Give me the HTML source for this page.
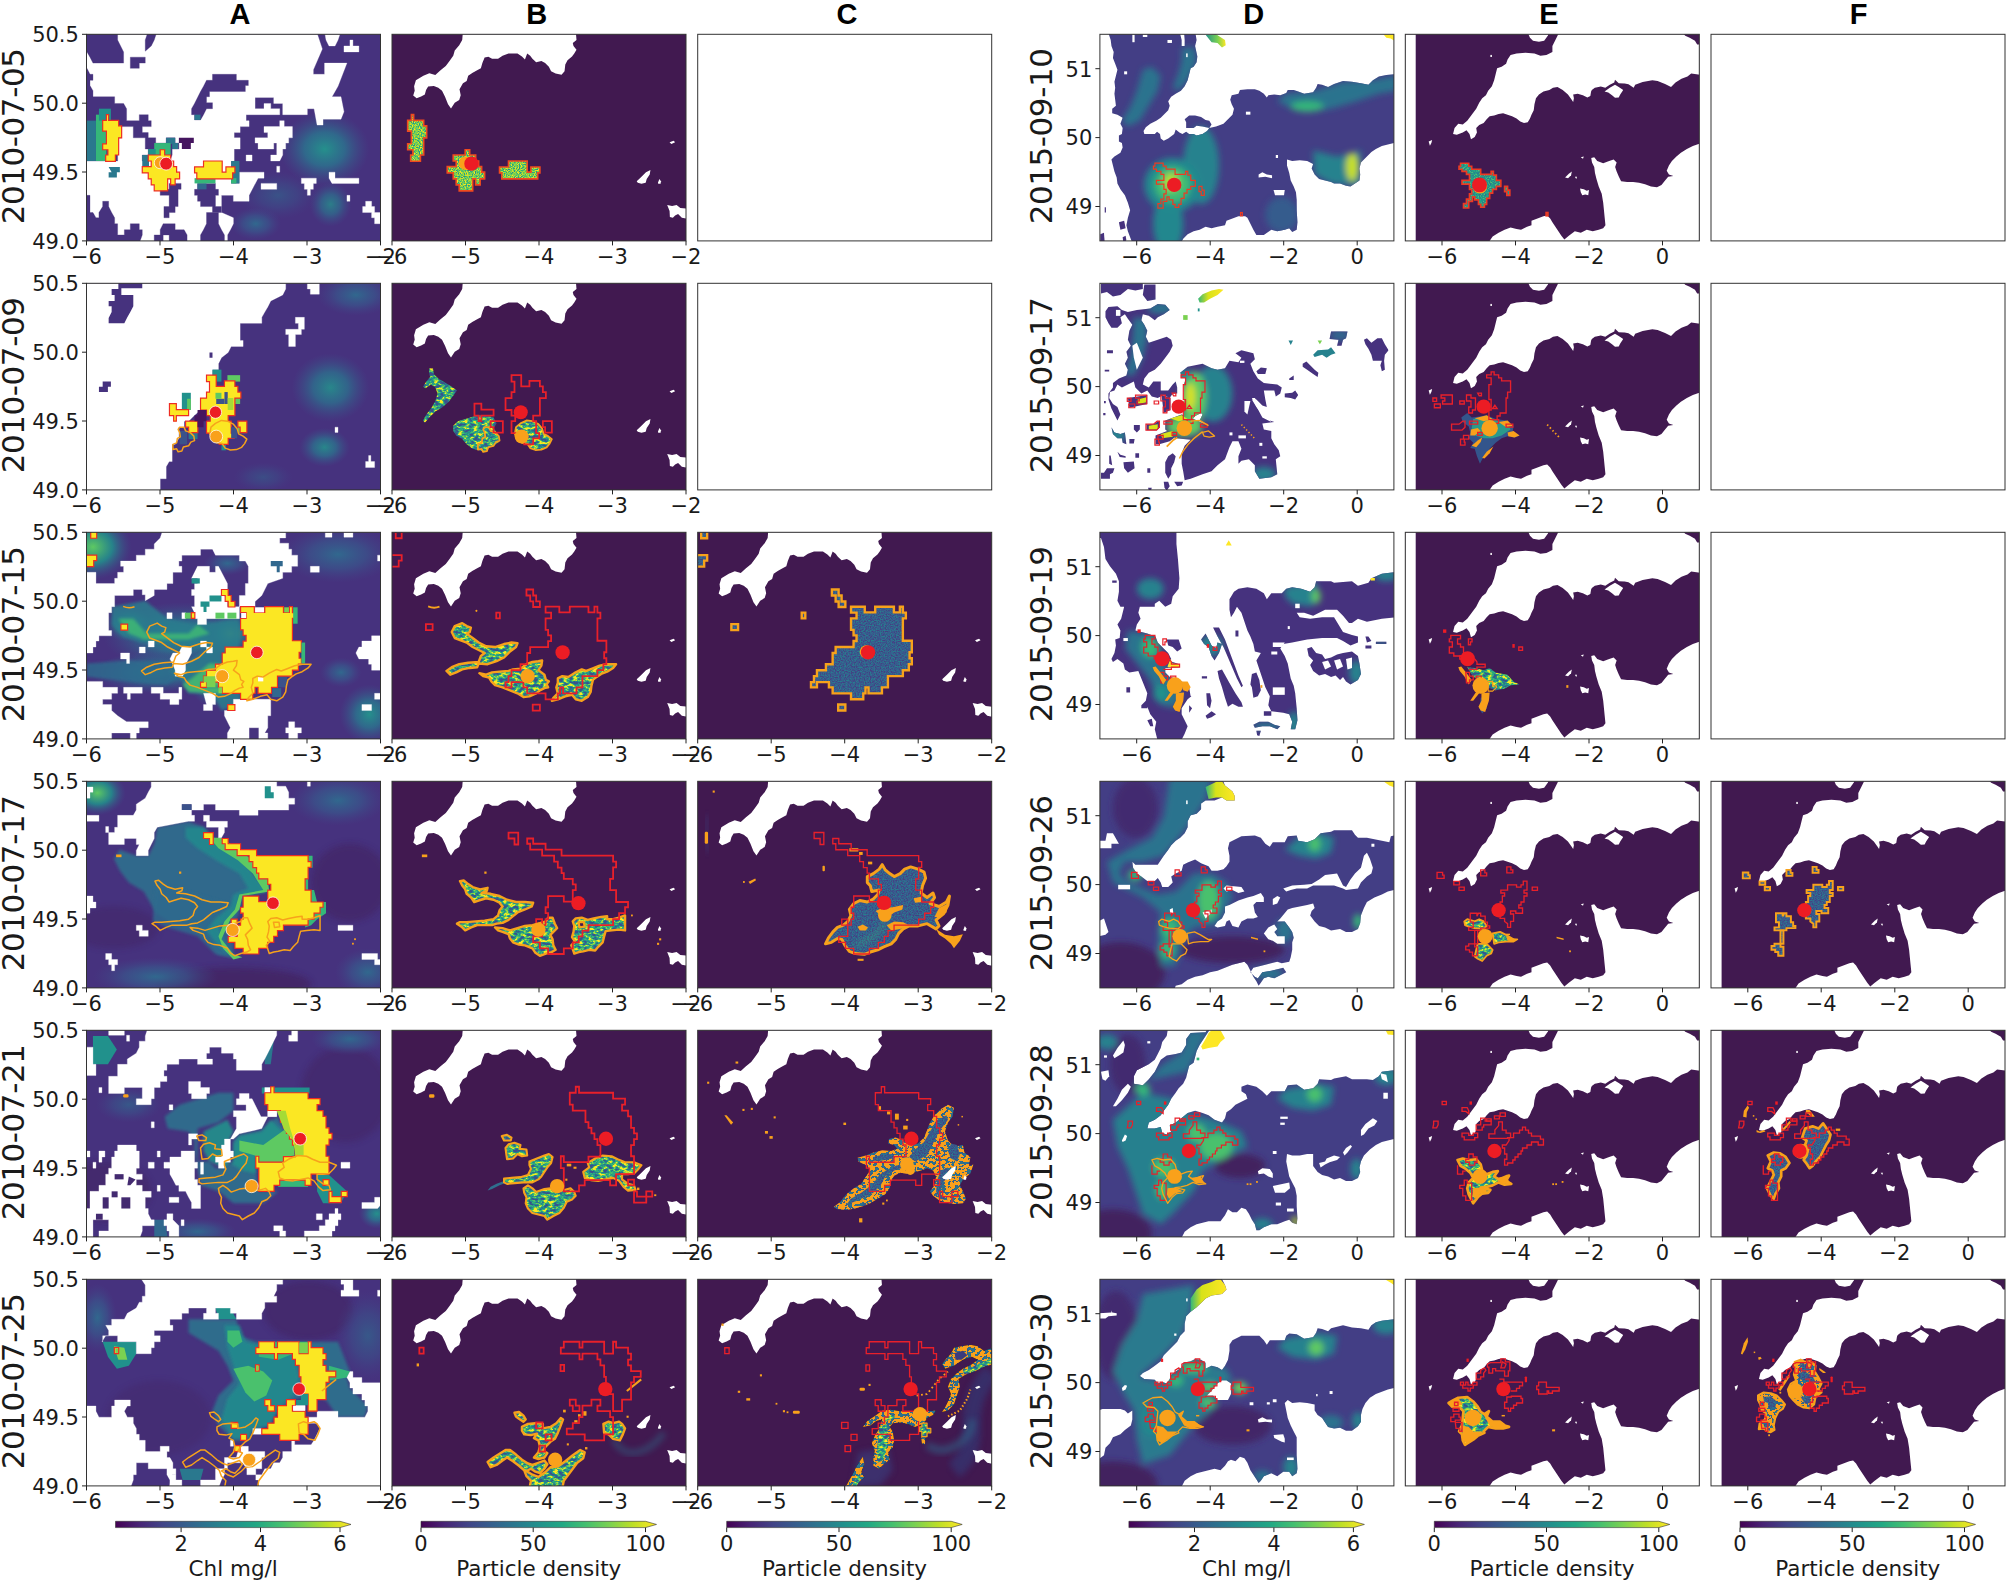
<!DOCTYPE html>
<html lang="en"><head><meta charset="utf-8"><title>Figure</title>
<style>
html,body{margin:0;padding:0;background:#fff}
svg{display:block}
text{font-family:"DejaVu Sans","Liberation Sans",sans-serif;fill:#1a1a1a}
.t{font-size:21px}
.d{font-size:31px;letter-spacing:-0.45px}
.h{font-family:"Liberation Sans","DejaVu Sans",sans-serif;font-weight:700;font-size:29px;fill:#000}
.fr{fill:none;stroke:#333;stroke-width:1}
.tk{stroke:#222;stroke-width:1}
.ro{fill:none;stroke:#e8202a;stroke-width:12;stroke-linejoin:miter}
.oo{fill:none;stroke:#f7a21b;stroke-width:12;stroke-linejoin:round}
</style></head><body>
<svg width="2008" height="1581" viewBox="0 0 2008 1581">
<defs>
<linearGradient id="vir" x1="0" x2="1" y1="0" y2="0"><stop offset="0.0" stop-color="#440154"/><stop offset="0.1" stop-color="#482475"/><stop offset="0.2" stop-color="#414487"/><stop offset="0.3" stop-color="#355f8d"/><stop offset="0.4" stop-color="#2a788e"/><stop offset="0.5" stop-color="#21918c"/><stop offset="0.6" stop-color="#22a884"/><stop offset="0.7" stop-color="#44bf70"/><stop offset="0.8" stop-color="#7ad151"/><stop offset="0.9" stop-color="#bddf26"/><stop offset="1.0" stop-color="#fde725"/></linearGradient>
<filter id="sp" x="-5%" y="-5%" width="110%" height="110%" color-interpolation-filters="sRGB"><feTurbulence type="fractalNoise" baseFrequency="0.13" numOctaves="2" seed="3" result="n"/><feColorMatrix in="n" type="matrix" values="2.2 0 0 0 -0.6  2.2 0 0 0 -0.6  2.2 0 0 0 -0.6  0 0 0 0 1"/><feComponentTransfer><feFuncR type="table" tableValues="0.13 0.21 0.48 0.74 0.99"/><feFuncG type="table" tableValues="0.57 0.72 0.82 0.87 0.91"/><feFuncB type="table" tableValues="0.55 0.47 0.32 0.17 0.14"/></feComponentTransfer><feComposite operator="in" in2="SourceGraphic"/></filter>
<filter id="hm" x="-5%" y="-5%" width="110%" height="110%" color-interpolation-filters="sRGB"><feTurbulence type="fractalNoise" baseFrequency="0.03 0.05" numOctaves="3" seed="7" result="n"/><feColorMatrix in="n" type="matrix" values="2.6 0 0 0 -0.8  2.6 0 0 0 -0.8  2.6 0 0 0 -0.8  0 0 0 0 1"/><feComponentTransfer><feFuncR type="table" tableValues="0.23 0.17 0.13 0.21 0.56 0.99"/><feFuncG type="table" tableValues="0.32 0.45 0.57 0.72 0.84 0.91"/><feFuncB type="table" tableValues="0.55 0.56 0.55 0.47 0.27 0.14"/></feComponentTransfer><feComposite operator="in" in2="SourceGraphic"/></filter>
<filter id="bl" x="-5%" y="-5%" width="110%" height="110%" color-interpolation-filters="sRGB"><feTurbulence type="fractalNoise" baseFrequency="0.12" numOctaves="2" seed="5" result="n"/><feColorMatrix in="n" type="matrix" values="2.4 0 0 0 -0.7  2.4 0 0 0 -0.7  2.4 0 0 0 -0.7  0 0 0 0 1"/><feComponentTransfer><feFuncR type="table" tableValues="0.27 0.23 0.20 0.15"/><feFuncG type="table" tableValues="0.25 0.33 0.40 0.50"/><feFuncB type="table" tableValues="0.51 0.55 0.56 0.56"/></feComponentTransfer><feComposite operator="in" in2="SourceGraphic"/></filter>
<filter id="tl" x="-5%" y="-5%" width="110%" height="110%" color-interpolation-filters="sRGB"><feTurbulence type="fractalNoise" baseFrequency="0.12" numOctaves="2" seed="9" result="n"/><feColorMatrix in="n" type="matrix" values="2.4 0 0 0 -0.7  2.4 0 0 0 -0.7  2.4 0 0 0 -0.7  0 0 0 0 1"/><feComponentTransfer><feFuncR type="table" tableValues="0.19 0.13 0.15 0.35"/><feFuncG type="table" tableValues="0.45 0.57 0.66 0.75"/><feFuncB type="table" tableValues="0.56 0.55 0.52 0.45"/></feComponentTransfer><feComposite operator="in" in2="SourceGraphic"/></filter>
<filter id="bf" x="-20%" y="-20%" width="140%" height="140%"><feGaussianBlur stdDeviation="22"/></filter>
<filter id="bf2" x="-20%" y="-20%" width="140%" height="140%"><feGaussianBlur stdDeviation="10"/></filter>
<filter id="ob" x="-5%" y="-5%" width="110%" height="110%" color-interpolation-filters="sRGB"><feTurbulence type="fractalNoise" baseFrequency="0.035 0.05" numOctaves="3" seed="11" result="n"/><feColorMatrix in="n" type="matrix" values="3 0 0 0 -1  3 0 0 0 -1  3 0 0 0 -1  0 0 0 0 1"/><feComponentTransfer><feFuncR type="discrete" tableValues="0.17 0.19 0.98 0.98 0.98"/><feFuncG type="discrete" tableValues="0.45 0.38 0.63 0.63 0.63"/><feFuncB type="discrete" tableValues="0.56 0.55 0.11 0.11 0.11"/></feComponentTransfer><feComposite operator="in" in2="SourceGraphic"/></filter>

<radialGradient id="gT"><stop offset="0" stop-color="#25908c"/><stop offset=".45" stop-color="#2c728e" stop-opacity=".85"/><stop offset="1" stop-color="#3b528b" stop-opacity="0"/></radialGradient>
<radialGradient id="gB"><stop offset="0" stop-color="#31688e"/><stop offset=".5" stop-color="#39568c" stop-opacity=".7"/><stop offset="1" stop-color="#414487" stop-opacity="0"/></radialGradient>
<radialGradient id="gG"><stop offset="0" stop-color="#5ec962"/><stop offset=".5" stop-color="#21918c" stop-opacity=".85"/><stop offset="1" stop-color="#3b528b" stop-opacity="0"/></radialGradient>
<radialGradient id="gY"><stop offset="0" stop-color="#fde725"/><stop offset=".35" stop-color="#7ad151" stop-opacity=".95"/><stop offset=".7" stop-color="#21918c" stop-opacity=".7"/><stop offset="1" stop-color="#3b528b" stop-opacity="0"/></radialGradient>

<g id="landB" fill="#fff">
<path d="M495 0L490 60L470 95L440 130L430 165L405 200L380 235L345 262L310 295L270 282L230 300L180 330L168 370L172 400L162 432L185 450L215 438L240 425L248 395L262 372L300 368L330 380L355 400L375 440L395 490L415 518L440 480L470 462L480 430L472 390L495 350L520 335L530 300L560 280L590 262L615 250L625 215L640 178L665 172L690 185L730 185L760 165L800 150L860 150L890 170L910 190L925 150L945 165L960 185L985 210L1020 200L1045 215L1070 240L1085 270L1115 285L1155 292L1175 270L1180 225L1195 195L1225 170L1240 150L1255 125L1235 100L1230 80L1255 60L1250 0Z"/>
<path d="M1658 1005L1690 975L1720 945L1750 930L1745 960L1725 990L1718 1015L1690 1022L1665 1015Z"/>
<path d="M1800 1015L1810 990L1820 1005L1818 1022L1802 1022Z"/>
<path d="M1878 745L1905 735L1915 745L1890 757Z"/>
<path d="M1862 1165L1895 1172L1925 1165L1950 1185L2000 1190L2000 1258L1960 1250L1935 1225L1915 1235L1900 1250L1880 1245L1878 1205Z"/>
</g>

<g id="landE" fill="#fff">
<rect x="0" y="0" width="85" height="1581"/>
<path d="M830 0L850 45L870 65L910 72L945 65L970 30L975 0Z"/>
<path d="M1050 0L1020 60L1000 100L1000 140L960 160L920 165L880 150L820 145L760 150L720 160L700 190L690 220L660 240L630 250L620 290L610 330L595 370L570 400L555 430L530 450L510 480L490 520L460 560L430 600L400 625L370 620L345 650L335 690L360 695L400 680L425 665L445 690L455 725L480 710L495 680L490 650L510 630L540 615L560 590L580 570L610 565L640 555L670 550L700 560L730 570L760 585L785 605L810 615L835 610L850 585L860 560L875 530L880 490L890 450L910 425L940 405L980 395L1004 380L1034 375L1069 395L1104 425L1129 460L1139 475L1144 450L1139 425L1169 420L1204 430L1234 445L1254 435L1259 405L1264 395L1284 380L1324 372L1354 380L1384 360L1414 345L1419 327L1444 350L1484 352L1509 357L1544 380L1554 360L1604 342L1669 330L1704 335L1754 355L1794 375L1824 345L1864 320L1904 305L1929 285L2010 295L2010 92L1969 90L1954 65L1919 45L1889 32L1860 0Z"/>
<path d="M1349 405L1384 380L1419 360L1444 375L1474 395L1454 425L1444 445L1419 447L1399 430L1374 412Z"/>
<path d="M172 740L195 730L190 750L180 768Z"/><rect x="585" y="160" width="10" height="14"/>
<path d="M570 1420L600 1375L640 1350L680 1330L720 1315L760 1325L790 1330L830 1310L860 1300L860 1270L900 1255L940 1240L965 1235L985 1255L1000 1280L1020 1310L1040 1340L1060 1370L1080 1395L1110 1370L1150 1340L1190 1350L1230 1330L1270 1340L1310 1330L1340 1320L1355 1300L1350 1250L1345 1200L1340 1150L1330 1090L1310 1040L1295 990L1285 950L1280 910L1265 880L1260 850L1280 845L1300 870L1340 885L1380 870L1410 860L1430 880L1420 910L1430 940L1445 975L1460 1005L1500 1010L1540 1010L1580 1015L1620 1025L1660 1040L1700 1045L1730 1030L1750 1005L1775 975L1810 970L1780 960L1765 935L1780 900L1800 870L1830 840L1860 815L1900 790L1940 770L2010 745L2010 1420Z"/>
<path d="M1085 980L1110 955L1130 940L1125 965L1105 985Z"/><path d="M1150 975L1165 975L1160 990Z"/><path d="M1190 845L1210 840L1205 855Z"/>
<path d="M1185 1055L1210 1060L1230 1070L1245 1065L1240 1100L1220 1095L1200 1100L1190 1080Z"/>
</g>

<clipPath id="cpA0"><rect x="86.5" y="34.3" width="294.0" height="206.6"/></clipPath><clipPath id="cpA1"><rect x="86.5" y="283.3" width="294.0" height="206.6"/></clipPath><clipPath id="cpA2"><rect x="86.5" y="532.3" width="294.0" height="206.6"/></clipPath><clipPath id="cpA3"><rect x="86.5" y="781.3" width="294.0" height="206.6"/></clipPath><clipPath id="cpA4"><rect x="86.5" y="1030.3" width="294.0" height="206.6"/></clipPath><clipPath id="cpA5"><rect x="86.5" y="1279.3" width="294.0" height="206.6"/></clipPath><clipPath id="cpB0"><rect x="392.0" y="34.3" width="294.0" height="206.6"/></clipPath><clipPath id="cpB1"><rect x="392.0" y="283.3" width="294.0" height="206.6"/></clipPath><clipPath id="cpB2"><rect x="392.0" y="532.3" width="294.0" height="206.6"/></clipPath><clipPath id="cpB3"><rect x="392.0" y="781.3" width="294.0" height="206.6"/></clipPath><clipPath id="cpB4"><rect x="392.0" y="1030.3" width="294.0" height="206.6"/></clipPath><clipPath id="cpB5"><rect x="392.0" y="1279.3" width="294.0" height="206.6"/></clipPath><clipPath id="cpC0"><rect x="697.7" y="34.3" width="294.0" height="206.6"/></clipPath><clipPath id="cpC1"><rect x="697.7" y="283.3" width="294.0" height="206.6"/></clipPath><clipPath id="cpC2"><rect x="697.7" y="532.3" width="294.0" height="206.6"/></clipPath><clipPath id="cpC3"><rect x="697.7" y="781.3" width="294.0" height="206.6"/></clipPath><clipPath id="cpC4"><rect x="697.7" y="1030.3" width="294.0" height="206.6"/></clipPath><clipPath id="cpC5"><rect x="697.7" y="1279.3" width="294.0" height="206.6"/></clipPath><clipPath id="cpD0"><rect x="1099.9" y="34.3" width="294.0" height="206.6"/></clipPath><clipPath id="cpD1"><rect x="1099.9" y="283.3" width="294.0" height="206.6"/></clipPath><clipPath id="cpD2"><rect x="1099.9" y="532.3" width="294.0" height="206.6"/></clipPath><clipPath id="cpD3"><rect x="1099.9" y="781.3" width="294.0" height="206.6"/></clipPath><clipPath id="cpD4"><rect x="1099.9" y="1030.3" width="294.0" height="206.6"/></clipPath><clipPath id="cpD5"><rect x="1099.9" y="1279.3" width="294.0" height="206.6"/></clipPath><clipPath id="cpE0"><rect x="1405.3" y="34.3" width="294.0" height="206.6"/></clipPath><clipPath id="cpE1"><rect x="1405.3" y="283.3" width="294.0" height="206.6"/></clipPath><clipPath id="cpE2"><rect x="1405.3" y="532.3" width="294.0" height="206.6"/></clipPath><clipPath id="cpE3"><rect x="1405.3" y="781.3" width="294.0" height="206.6"/></clipPath><clipPath id="cpE4"><rect x="1405.3" y="1030.3" width="294.0" height="206.6"/></clipPath><clipPath id="cpE5"><rect x="1405.3" y="1279.3" width="294.0" height="206.6"/></clipPath><clipPath id="cpF0"><rect x="1711.0" y="34.3" width="294.0" height="206.6"/></clipPath><clipPath id="cpF1"><rect x="1711.0" y="283.3" width="294.0" height="206.6"/></clipPath><clipPath id="cpF2"><rect x="1711.0" y="532.3" width="294.0" height="206.6"/></clipPath><clipPath id="cpF3"><rect x="1711.0" y="781.3" width="294.0" height="206.6"/></clipPath><clipPath id="cpF4"><rect x="1711.0" y="1030.3" width="294.0" height="206.6"/></clipPath><clipPath id="cpF5"><rect x="1711.0" y="1279.3" width="294.0" height="206.6"/></clipPath>
</defs>
<rect width="2008" height="1581" fill="#fff"/>
<g clip-path="url(#cpA0)"><g transform="translate(84,31) scale(0.149402)"><rect width="2008" height="1581" fill="#46327e"/>
<ellipse cx="1610" cy="790" rx="300" ry="250" fill="url(#gT)"/><ellipse cx="1650" cy="1160" rx="140" ry="150" fill="url(#gT)" opacity=".8"/><ellipse cx="1150" cy="1290" rx="170" ry="110" fill="url(#gB)"/><ellipse cx="1300" cy="1100" rx="260" ry="160" fill="url(#gB)" opacity=".6"/>
<g fill="#fff" stroke="#fff" stroke-width="2">
<path d="M0 0H1555L1595 120L1535 260V290H1610V215H1760L1700 370L1660 440H1720L1740 540L1720 590H1600V630H1560L1540 520H1495V560H1330V485H1270V445H1145V520H1205V485H1250V520H1310V560H1085V600H1105V640H1045V680H1005V715H1045V790H1005V870H985V1020H1040V945H1205V985H1165L1105 1100V1140H1000V1100H920V1215L1000 1250V1290L980 1330L960 1365V1420H0Z"/>
<path d="M1610 0H1720L1700 60L1680 100H1640L1620 60Z"/><path d="M1740 100H1780V60H1800V100H1840V140H1740Z"/>
<path d="M1145 715H1230V680H1205V640H1310V600H1340V640H1395V715H1370V750H1350V790H1330V830L1310 870H1250V830H1290V750H1270V790H1165V750H1145Z"/>
<path d="M1085 830H1125V870H1085Z"/><path d="M1290 905H1310V945H1290Z"/><path d="M1185 1020H1290V1060H1185Z"/>
<path d="M1455 985H1555V1020H1535V1060H1515V1100H1495V1060H1475V1020H1455Z"/><path d="M1640 945H1680V985H1840V1020H1660L1640 985Z"/><path d="M1760 1100H1780V1140H1760Z"/>
<path d="M1885 1140H1925V1175H1945V1215H2000V1290H1945V1250H1925V1215H1865V1175H1885Z"/></g>
<g fill="#46327e" stroke="#46327e" stroke-width="2">
<path d="M0 0H225V60L245 100L265 140V215H60L40 175L20 140H0Z"/><path d="M430 0H490L470 60L450 100L410 135V60Z"/><path d="M310 175H410V215H370V250H310Z"/>
<path d="M0 250H20L40 290H60V330H40V365L60 400V440H205V485H265L285 520V600H370V560H430V600H450V640H390V680H430V715H480V750H550V715H610V750H635V790H590V830L575 870H390V830H430V790H410V715H330V640H250V715H225V870H0Z"/>
<path d="M860 290H1020V330H1100V365H1080V405H840V440H820V480H860V520H820L800 560L780 595H740V560H720V520L740 485L760 445L780 405L800 370L820 330H860Z"/>
<path d="M510 1060H570V1020H650V1060H630V1175H610V1215H570V1250H535V1175H570V1100H510Z"/>
<path d="M760 1020H880V1060H900V1100H880V1175H920V1215H860V1175H780V1140H760V1100H740V1060H760Z"/>
<path d="M0 1100H40V1215H60L80 1250H100V1215L125 1175V1140H165V1175L185 1215L205 1250V1290H225V1365H270V1330H310V1290H370V1330H390V1365L370 1420H0Z"/>
<path d="M470 1420V1365H510V1330L530 1290H610V1330H670L690 1365V1420H570V1365H530V1420Z"/>
<path d="M780 1420V1365L800 1330L820 1290V1215H900V1290L920 1330L940 1365V1420Z"/></g>
<path d="M635 715H735V750H715V790H655V750H635Z" fill="#45155f"/>
<g fill="#2a788e"><path d="M165 910H240V945H220V980H165V945H185Z"/><rect x="740" y="560" width="40" height="35"/><rect x="985" y="870" width="55" height="150"/><rect x="390" y="830" width="45" height="80"/><rect x="20" y="600" width="60" height="270"/><rect x="550" y="715" width="60" height="40"/><rect x="590" y="750" width="40" height="40"/><rect x="760" y="1020" width="60" height="40" fill="#31688e"/></g>
<g fill="#35b779"><rect x="80" y="560" width="70" height="310"/><rect x="100" y="520" width="80" height="80" fill="#21918c"/><rect x="470" y="750" width="110" height="80"/><rect x="740" y="985" width="140" height="35"/><rect x="430" y="790" width="50" height="45" fill="#21918c"/><rect x="985" y="985" width="35" height="35"/></g>
<use href="#b0p" fill="#fbe723" stroke="#ee2d22" stroke-width="8"/>
<g stroke="#fff" stroke-width="5"><circle cx="510" cy="882" r="40" fill="#f9a11b"/><circle cx="550" cy="888" r="43" fill="#ec1c24"/></g>
</g></g>
<rect class="fr" x="86.5" y="34.3" width="294.0" height="206.6"/>
<g clip-path="url(#cpA1)"><g transform="translate(84,280) scale(0.149402)"><rect width="2008" height="1581" fill="#46327e"/>
<ellipse cx="1650" cy="720" rx="260" ry="230" fill="url(#gT)" opacity=".9"/><ellipse cx="1610" cy="1120" rx="170" ry="130" fill="url(#gT)" opacity=".9"/><ellipse cx="1820" cy="100" rx="260" ry="140" fill="url(#gB)"/><ellipse cx="1200" cy="1320" rx="200" ry="100" fill="url(#gB)" opacity=".5"/>
<g fill="#fff" stroke="#fff" stroke-width="2">
<path d="M0 0H1350V60L1330 100L1250 140L1230 180L1210 215L1190 250V290H1045V405H1065V445H985L965 485L920 520L900 560V600H860V680H840V750H820V790H780V870L740 905L700 945H670V985H635V1060L610 1100H590V1215H570L550 1250V1330H510V1420H0Z"/>
<path d="M1495 0H1575V95H1515V60H1495Z"/><path d="M1415 250H1475V330H1455V365H1415V445H1370V365H1350V330H1435V290H1415Z"/><path d="M1680 985H1700V1020H1680Z"/><path d="M1905 1175H1920V1215H1945V1255H1885V1215H1905Z"/></g>
<g fill="#46327e"><path d="M230 0H390V55H250V100H330V175L310 215L290 250L270 290H165V255L185 215V175H165V140H205V100H185V60H230Z"/><path d="M125 680H180V715H160V750H100V715H125Z"/><path d="M840 485H860V520H840Z"/></g>
<g fill="#21918c"><rect x="860" y="600" width="60" height="80"/><rect x="655" y="755" width="60" height="115"/><rect x="920" y="1100" width="30" height="40"/><rect x="700" y="985" width="60" height="80" fill="#2a788e"/></g>
<g fill="#5ec962"><rect x="960" y="637" width="85" height="43"/><rect x="1000" y="790" width="45" height="40"/><rect x="690" y="795" width="25" height="75"/><rect x="1030" y="945" width="60" height="80"/></g>
<use href="#b1r" fill="#fbe723" stroke="#ee2d22" stroke-width="8"/>
<g fill="#3b528b"><rect x="885" y="795" width="55" height="35"/><rect x="940" y="750" width="22" height="80"/><rect x="985" y="985" width="40" height="75"/><rect x="640" y="1010" width="50" height="90"/></g><rect x="880" y="755" width="40" height="40" fill="#5ec962"/><rect x="962" y="790" width="38" height="80" fill="#a5db36"/>
<path d="M760 870H820V945H800V985H760V945H740V905H760Z" fill="#45155f"/>
<use href="#b1o" style="stroke-width:10" class="oo" />
<g stroke="#fff" stroke-width="5"><circle cx="880" cy="885" r="41" fill="#ec1c24"/><circle cx="885" cy="1048" r="43" fill="#f9a11b"/></g>
</g></g>
<rect class="fr" x="86.5" y="283.3" width="294.0" height="206.6"/>
<g clip-path="url(#cpA2)"><g transform="translate(84,529) scale(0.149402)"><rect width="2008" height="1581" fill="#46327e"/>
<ellipse cx="60" cy="120" rx="260" ry="220" fill="url(#gG)"/><ellipse cx="650" cy="720" rx="520" ry="230" fill="url(#gT)"/><ellipse cx="480" cy="960" rx="430" ry="140" fill="url(#gT)"/><ellipse cx="900" cy="1020" rx="200" ry="180" fill="url(#gG)"/><ellipse cx="980" cy="700" rx="160" ry="140" fill="url(#gG)" opacity=".7"/><ellipse cx="300" cy="640" rx="160" ry="120" fill="url(#gG)" opacity=".8"/>
<ellipse cx="1910" cy="1240" rx="200" ry="200" fill="url(#gT)"/><ellipse cx="1720" cy="960" rx="140" ry="100" fill="url(#gB)"/><ellipse cx="1700" cy="170" rx="380" ry="190" fill="url(#gB)"/><ellipse cx="960" cy="230" rx="160" ry="80" fill="url(#gB)"/>
<polygon filter="url(#bf2)" fill="#2a7d8e" opacity=".85" points="185,520 410,480 560,600 740,640 1040,600 1040,790 925,830 925,905 800,1025 1048,1100 1048,1175 920,1215 860,1100 700,1100 640,990 700,880 830,800 560,760 380,760 260,720 185,640"/><polygon filter="url(#bf2)" fill="#2f6b8e" opacity=".85" points="20,900 300,880 560,900 600,1000 560,1040 300,1020 20,990"/><polygon filter="url(#bf2)" fill="#3fbc73" opacity=".8" points="230,600 330,600 420,700 700,700 760,640 840,700 700,740 400,740 300,700"/><polygon filter="url(#bf2)" fill="#4ac16d" opacity=".8" points="840,900 925,905 900,1000 800,1025 780,1060 900,1060 925,1100 860,1100 700,1090 660,1040 720,1000"/>
<g fill="#fff" stroke="#fff" stroke-width="2">
<path d="M530 0L510 60L470 100V135H410V175H350V215H245V250H265V290H225V330H205V365H80V290H0V830H60V790H80V750H100V715H185V680H165V560H185V520H205V445H330V405H390V440H410V480L470 445V405H555V365H595V290H655V250H635V215H655V175H780V135H860L880 175H1040V215H1080L1100 250V365H1080V445H1040V520H1145V485L1190 445L1210 405L1230 365L1330 330V290H1390V250H1430V175H1390V135H1370V95H1310V60H1350V0Z"/>
<path d="M760 250H840V290H880V250H900L960 365V405H920V445H940L960 485V520H1040V600H820V640H760V600H740V560L720 520H740V445H720V405H740V365H760V330H720L740 290Z"/>
<path d="M655 790H720V830L700 870L680 905V945L660 985H610V945L595 905L575 870L595 830H635Z"/>
<path d="M370 790H410V830H370Z"/><path d="M430 750H470V790H430Z"/><path d="M780 750H820V790H860V830H820V790H780Z"/><path d="M245 830H305V900H285V870H245Z"/><path d="M555 560H590V600H555Z"/><path d="M655 560H680V600H655Z"/>
<path d="M0 1020H125V1060H225V1100H185V1140H125V1175H185V1215L225 1250L285 1290H430V1330H370V1365H350V1420H310V1365H185V1420H0Z"/>
<path d="M265 1060H390V1100H310V1140H290V1100H265Z"/><path d="M450 1060H530V1100H635V1060H655V1140H635V1175H575V1140H510V1100H450Z"/><path d="M800 1100H880V1175H860V1215H800V1175H820Z"/>
<path d="M940 1215H1000V1140H1250V1250H1230V1330L1210 1365H1230V1420H1170V1330H1105V1420H960V1365L980 1330L960 1290L940 1250Z"/>
<path d="M1840 790H1860V750H1925V715H2000V945H1925V905H1905V870H1840L1820 830Z"/><path d="M1860 1175H1925V1215H1860Z"/><path d="M1945 1100H2000V1140H1945Z"/>
<path d="M1370 1290H1410V1330H1455V1365H1430V1420H1370V1365H1350V1330H1370Z"/>
<path d="M1615 0H1660V55H1615Z"/><path d="M1740 0H1800V55H1740Z"/><path d="M1515 250H1575V290H1515Z"/><path d="M1965 175H2000V215H1965Z"/></g>
<path d="M1250 215H1330V250H1310V290H1290V250H1250Z" fill="#31688e"/><g fill="#21918c"><rect x="840" y="445" width="80" height="40"/><path d="M780 485H840V520H820V555H800V520H780Z"/><rect x="720" y="330" width="55" height="35"/></g><g fill="#5ec962"><rect x="880" y="560" width="60" height="40"/><rect x="960" y="560" width="60" height="40"/><rect x="675" y="560" width="45" height="40"/></g>
<use href="#b2r" fill="#fbe723" stroke="#ee2d22" stroke-width="8"/>
<g fill="#fff"><rect x="1145" y="524" width="60" height="34"/><rect x="1052" y="562" width="33" height="34"/><rect x="1165" y="985" width="35" height="35"/></g>
<g fill="#7ad151"><rect x="1340" y="524" width="32" height="34"/><rect x="1400" y="524" width="30" height="110" fill="#35b779"/><rect x="1455" y="760" width="25" height="140" fill="#35b779"/><path d="M800 985H880V1060H925V1100H900V1060H820V1025H800Z"/><rect x="1260" y="1065" width="60" height="60" fill="#31688e"/><rect x="1300" y="990" width="60" height="70" fill="#3b528b"/></g>
<use href="#b2p" style="stroke-width:10" class="oo" /><path d="M262 518Q300 535 338 520" style="stroke-width:10" class="oo" />
<g stroke="#fff" stroke-width="5"><circle cx="1157" cy="826" r="42" fill="#ec1c24"/><circle cx="925" cy="985" r="44" fill="#f9a11b"/></g>
</g></g>
<rect class="fr" x="86.5" y="532.3" width="294.0" height="206.6"/>
<g clip-path="url(#cpA3)"><g transform="translate(84,778) scale(0.149402)"><rect width="2008" height="1581" fill="#46327e"/>
<ellipse filter="url(#bf)" cx="1780" cy="700" rx="260" ry="260" fill="#42205f" opacity=".55"/><ellipse filter="url(#bf)" cx="1000" cy="1380" rx="520" ry="110" fill="#42205f" opacity=".7"/><ellipse filter="url(#bf)" cx="200" cy="1000" rx="300" ry="140" fill="#42205f" opacity=".4"/>
<ellipse cx="90" cy="100" rx="190" ry="150" fill="url(#gG)"/><ellipse cx="1700" cy="150" rx="320" ry="170" fill="url(#gB)"/><ellipse cx="1900" cy="1300" rx="220" ry="160" fill="url(#gB)"/><ellipse cx="480" cy="1330" rx="420" ry="130" fill="url(#gB)"/>
<polygon filter="url(#bf2)" fill="#2f6f8e" opacity=".9" points="490,330 700,290 800,330 860,400 920,440 1040,520 1100,600 1160,680 1230,760 1060,790 1040,870 980,945 900,990 1000,1200 900,1180 800,1060 700,1000 600,980 480,900 400,760 300,700 240,620 200,540 240,480 350,520 430,520 470,440"/>
<polygon filter="url(#bf2)" fill="#2f6b8e" opacity=".85" points="480,700 960,840 1040,900 1000,1000 1000,1200 880,1180 760,1060 560,1000 460,960"/><polygon filter="url(#bf2)" fill="#23898e" opacity=".9" points="680,330 800,330 860,400 920,440 1040,520 1100,600 1160,680 1230,760 1060,790 1040,870 980,945 900,990 960,1180 880,1100 820,1020 880,940 980,860 1000,780 1100,740 1040,640 900,560 760,470 680,400"/>
<polygon fill="#5ec962" points="840,400 920,400 1040,480 1140,560 1230,680 1240,760 1060,790 1040,880 980,945 920,1080 1000,1180 1060,1200 1000,1215 930,1140 900,1060 940,960 1010,880 1040,780 1200,750 1130,640 1030,550 900,470"/>
<polygon fill="#35b779" points="1500,520 1530,520 1530,600 1500,600 1500,750 1540,750 1560,830 1620,830 1620,905 1560,945 1520,985 1480,1000 1480,940 1540,900 1580,860 1500,840 1470,760 1470,600"/>
<g fill="#fff" stroke="#fff" stroke-width="2">
<path d="M450 0H1290V55H1350L1370 95V135H1410V175H1370V215H1165V250H1040V215H880V175H800V215H720V175H655V215H720V250H740V290H700L490 330L470 365V405L450 445L430 485V520H350V485L370 445H350V405H270V445H165V365H205V330H225V250H330L350 215V175L410 135L430 95L450 60Z"/>
<path d="M800 250H840V290H960V330H940V365L920 400H900V330H820V290H800Z"/><path d="M0 250H100V290H0Z"/><path d="M0 60H60V95H40V135H0Z"/><path d="M145 325H165V365H145Z"/>
<path d="M0 790H60V830H80V870H40V905H0Z"/><path d="M350 985H390V1020H430V1060H370V1020H350Z"/><path d="M145 1175H185V1215H225V1250H205V1290H185V1250H165V1215H145Z"/>
<path d="M1700 985H1800V1020H1700Z"/><path d="M1860 1175H1965V1215H2000V1250H1945V1215H1860Z"/><path d="M1495 0H1515V55H1495Z"/></g>
<path d="M1210 55H1250V95H1270V135H1210Z" fill="#21918c"/><path d="M655 175H720V215H655Z" fill="#3b528b"/>
<use href="#b3r" fill="#fbe723" stroke="#ee2d22" stroke-width="8"/>
<use href="#b3p" style="stroke-width:10" class="oo" />
<g fill="#f9a11b"><rect x="215" y="512" width="36" height="18"/><rect x="636" y="626" width="15" height="15"/><rect x="1808" y="1073" width="12" height="12"/><rect x="1794" y="1103" width="12" height="12"/></g>
<g stroke="#fff" stroke-width="5"><circle cx="1265" cy="838" r="42" fill="#ec1c24"/><circle cx="995" cy="1017" r="44" fill="#f9a11b"/></g>
</g></g>
<rect class="fr" x="86.5" y="781.3" width="294.0" height="206.6"/>
<g clip-path="url(#cpA4)"><g transform="translate(84,1027) scale(0.149402)"><rect width="2008" height="1581" fill="#46327e"/>
<ellipse filter="url(#bf)" cx="1750" cy="450" rx="300" ry="320" fill="#42205f" opacity=".45"/><ellipse filter="url(#bf)" cx="150" cy="1100" rx="300" ry="200" fill="#42205f" opacity=".5"/>
<ellipse cx="1780" cy="80" rx="260" ry="110" fill="url(#gB)"/><ellipse cx="760" cy="1370" rx="260" ry="90" fill="url(#gB)"/><ellipse cx="1960" cy="1250" rx="120" ry="100" fill="url(#gT)"/><ellipse cx="300" cy="520" rx="220" ry="120" fill="url(#gB)" opacity=".7"/>
<polygon filter="url(#bf2)" fill="#2d718e" opacity=".9" points="760,900 760,680 900,640 1000,560 1000,440 900,440 640,520 540,600 560,680 700,700 740,760 740,830 780,1060 900,1100 1000,1180 1200,1180 1300,1100 1170,1100 1150,950 1150,860 1340,860 1410,790 1340,680 1290,600 1190,690 1040,720 1000,760 1000,900 940,945 880,945 840,900"/>
<polygon filter="url(#bf2)" fill="#21918c" opacity=".9" points="800,700 960,620 1000,700 960,780 960,900 1060,960 1150,980 1150,860 1340,860 1400,800 1330,700 1250,620 1190,700 1040,730 1000,780 1000,900 940,945 840,900 800,830"/>
<polygon fill="#5ec962" points="1040,760 1200,790 1340,690 1400,760 1410,860 1340,870 1330,905 1160,905 1145,860 1040,830"/>
<polygon fill="#21918c" points="60,60 160,60 220,150 160,250 60,250"/><polygon fill="#21918c" points="1560,990 1640,990 1760,1100 1720,1180 1600,1180 1560,1100"/><polygon fill="#2a788e" points="1210,135 1270,95 1250,250 1210,250"/><polygon fill="#31688e" points="470,1290 540,1290 560,1410 470,1410"/><rect x="1300" y="1020" width="200" height="50" fill="#35b779"/><rect x="1190" y="405" width="320" height="40" fill="#21918c"/>
<g fill="#fff" stroke="#fff" stroke-width="2">
<path d="M430 0H1290V55L1270 95L1250 135L1230 175L1210 215L1190 250V290H1020V215H1000V175H920V135H840V175H820V215H860V250H760V215H635V250H555V290H535V330H555V365H510V405H470V480H450V520H350V480H390V405H270V445H165V330H225V250H290V215L350 175L370 135V95H410V60Z"/>
<path d="M700 365H780V405H840V445H820V480H720V445H700Z"/>
<path d="M1040 445H1105V480H1125L1145 520L1165 560L1185 600H1230V560H1290V600H1230L1210 640L1190 680L1040 715L1000 750H980V830H1000V870H980V905H940V945H900V905H880V870H920V790H940V750H980L1000 715L1020 680V600H1000V560H1085V520H1020V480H1040Z"/>
<path d="M700 715H760V750H720V790H700Z"/>
<path d="M650 830H740V905H760V945H740V1020H760V1060H780V1215H720V1175L700 1140L680 1100H635V1060H615L595 1020L575 985V945H535V905H575V870H650Z"/>
<path d="M205 830H225V790H350V830H370V945H350V985H390V1020H350V1060H390V1100H450V1140H410V1215H430V1250L450 1290H470V1330H390V1365L370 1420H100V1365H165V1290H60V1420H0V1215H40V1100H100V1060H145V985H165V945H185V870H205Z"/>
<path d="M0 830H40V870H0Z"/><path d="M60 905H80V945H60Z"/><path d="M100 830H140V870H120V905H100Z"/><path d="M430 905H470V945H430Z"/><path d="M490 830H510V870H490Z"/><path d="M450 635H470V675H450Z"/><path d="M570 520H595V555H570Z"/><path d="M100 405H120V440H100Z"/>
<path d="M0 135H60V250H80V325H0Z"/><path d="M165 0H270V55H165Z"/><path d="M285 55H305V95H285Z"/><path d="M570 1140H635V1175H570Z"/><path d="M490 1060H510V1100H490Z"/>
<path d="M535 1290H555V1250H595V1290L635 1330V1420H570V1365H555V1330H535Z"/><path d="M650 1290H670V1330H650Z"/>
<path d="M1720 905H1780V945H1720Z"/><path d="M1860 1175H1945V1140H2000V1175L1965 1215H1860Z"/>
<path d="M1680 1215H1700V1250H1720V1290H1700V1330H1680V1365H1660V1420H1475V1365H1575V1330H1615V1290H1640V1250H1680Z"/><path d="M1555 1250H1595V1290H1555Z"/><path d="M1270 1330H1330V1365H1350V1420H1310V1365H1270Z"/>
<path d="M1390 0H1430V95H1370V55H1390Z"/><path d="M780 905H800V985H780Z"/><path d="M1210 405H1250V440H1210Z"/></g>
<g fill="#432a70"><rect x="205" y="985" width="60" height="35"/><path d="M300 1000L345 1020L310 1060H290Z"/><rect x="185" y="1100" width="40" height="40"/><rect x="250" y="1140" width="60" height="75"/><rect x="125" y="1140" width="40" height="75"/><rect x="80" y="1250" width="45" height="40"/></g>
<use href="#b4r" fill="#fbe723" stroke="#ee2d22" stroke-width="8"/>
<rect x="1230" y="562" width="60" height="36" fill="#fff"/><polygon fill="#a5db36" points="1290,560 1350,560 1380,680 1415,790 1470,790 1470,860 1415,865 1400,760 1340,690"/>
<use href="#b4p" style="stroke-width:10" class="oo" /><rect x="262" y="450" width="36" height="22" rx="8" fill="#f9a11b"/>
<g stroke="#fff" stroke-width="5"><circle cx="1447" cy="748" r="42" fill="#ec1c24"/><circle cx="1122" cy="1065" r="44" fill="#f9a11b"/></g>
</g></g>
<rect class="fr" x="86.5" y="1030.3" width="294.0" height="206.6"/>
<g clip-path="url(#cpA5)"><g transform="translate(84,1276) scale(0.149402)"><rect width="2008" height="1581" fill="#46327e"/>
<ellipse filter="url(#bf)" cx="1500" cy="230" rx="300" ry="200" fill="#42205f" opacity=".5"/><ellipse filter="url(#bf)" cx="500" cy="950" rx="350" ry="250" fill="#42205f" opacity=".3"/>
<ellipse cx="90" cy="280" rx="130" ry="230" fill="url(#gB)"/><ellipse cx="1900" cy="400" rx="220" ry="300" fill="url(#gB)" opacity=".7"/>
<polygon filter="url(#bf2)" fill="#2d718e" opacity=".92" points="700,290 1020,290 1040,400 1150,440 1700,440 1780,640 1760,680 1780,750 1900,870 1880,945 1700,945 1620,830 1500,800 1400,830 1300,900 1240,1000 1190,1020 1130,1020 1100,1100 1000,1100 900,1000 860,900 900,800 1000,700 960,600 900,500 800,440 700,380"/>
<polygon filter="url(#bf2)" fill="#23898e" opacity=".95" points="940,330 1040,330 1080,440 1400,520 1440,680 1400,800 1300,880 1240,1000 1130,1020 1100,1090 1000,1090 920,960 960,820 1040,720 1000,600 960,480"/>
<polygon fill="#3fbc73" points="960,365 1040,365 1060,440 1000,480 960,440"/><polygon fill="#4ac16d" points="1000,620 1100,600 1200,640 1260,700 1220,800 1140,840 1080,780 1040,700"/><polygon fill="#35b779" points="1170,440 1500,440 1500,520 1400,520 1300,560 1170,540"/><polygon fill="#35b779" points="1640,600 1780,640 1760,680 1640,700"/>
<polygon fill="#21918c" points="125,440 350,440 350,520 300,600 220,620 160,540"/><polygon fill="#7ad151" points="200,470 270,480 290,560 230,560"/><polygon fill="#2a788e" points="640,1290 800,1290 780,1365 660,1365"/><polygon fill="#21918c" points="880,215 980,215 1020,290 900,290"/>
<g fill="#fff" stroke="#fff" stroke-width="2">
<path d="M370 0H1330V55H1290V95L1270 135H1290V175H1210V215L1190 250V290H1020V250H980V215H880V250H900V290H800V250H820V215H700V250H655V290H575V330H595V365H470V400H510V440H470V480H450V520H350V440H225V400H125V440H120L145 400H165V365L145 330H185V290H270L290 250L350 215L370 175H390V135H410V60Z"/>
<path d="M0 870H80V905L100 945H185V870H205V830H310V870H290L270 905L290 945H330V985L350 1020V1060H370V1100H410V1175H510V1140H570V1175H555V1215H575L595 1250V1290H615V1330H590V1420H575V1365L555 1330V1290H430V1250H350V1330H330V1365L310 1420H0Z"/>
<path d="M1780 640H1800V680H1860V715H2000V1420H1170V1365H1150V1330H1190L1210 1290H1250L1270 1250H1310L1330 1215V1175H1390V1100H1410V1130H1520L1540 1100L1560 1060L1580 1020L1560 985H1500V945H1560V905H1700V945H1880L1900 905V870H1880V830H1860V790H1800V750H1780V715L1760 680Z"/>
<path d="M940 1215H1020L1040 1140H1100V1175H1210V1215H1190V1290H1150V1330H1090V1290L1060 1250H960V1290H940Z"/>
<path d="M1130 1020H1190V1060H1130Z"/><path d="M980 1100H1000V1140H980Z"/><path d="M1400 865H1480V900H1400Z"/>
<path d="M1720 0H1800V95H1840V135H1720V95H1740V55H1720Z"/><path d="M1965 95H2000V135H1965Z"/>
<path d="M570 1420L590 1330H615V1365H655V1420Z"/><path d="M780 1365H880V1290H940V1330L920 1365L900 1420H780Z"/></g>
<use href="#b5r" fill="#fbe723" stroke="#ee2d22" stroke-width="8"/>
<rect x="1400" y="868" width="80" height="34" fill="#fff"/><polygon fill="#21918c" points="1452,790 1500,790 1500,865 1420,865 1420,830 1452,830"/>
<g fill="#7ad151"><rect x="1440" y="445" width="58" height="72"/><rect x="210" y="485" width="18" height="30"/><rect x="1152" y="600" width="16" height="32"/></g>
<use href="#b5p" style="stroke-width:10" class="oo" /><path d="M1592 770L1688 692" style="stroke-width:10" class="oo" />
<g stroke="#fff" stroke-width="5"><circle cx="1440" cy="757" r="42" fill="#ec1c24"/><circle cx="1105" cy="1230" r="44" fill="#f9a11b"/></g>
</g></g>
<rect class="fr" x="86.5" y="1279.3" width="294.0" height="206.6"/>
<g clip-path="url(#cpB0)"><g transform="translate(389,31) scale(0.149402)"><rect width="2008" height="1581" fill="#411950"/><use href="#landB"/>
<g id="b0p"><path d="M150 560H165V598H232V635H252V715H232V830H210V872H145V830H160V795H125V755H150V670H125V598H150Z"/>
<path d="M510 795H540V830H580V870H600V908H620V945H640V990H610V1030H580V990H560V1070H470V1030H450V990H430V950H390V908H450V870H430V830H510Z"/>
<path d="M800 870H925V945H950V910H1010V950H995V990H755V950H740V910H800Z"/></g>
<use href="#b0p" filter="url(#sp)"/><use href="#b0p" fill="none" stroke="#f04a1e" stroke-width="11"/>
<circle cx="512" cy="885" r="45" fill="#f9a11b"/><circle cx="552" cy="888" r="48" fill="#ec1c24"/>
</g></g>
<rect class="fr" x="392.0" y="34.3" width="294.0" height="206.6"/>
<g clip-path="url(#cpB1)"><g transform="translate(389,280) scale(0.149402)"><rect width="2008" height="1581" fill="#411950"/><use href="#landB"/>
<g filter="url(#hm)">
<path d="M270 590L295 592L300 630L330 660L380 690L420 715L455 740L430 775L400 815L360 850L310 880L270 920L240 955L228 940L250 900L285 855L310 810L325 760L310 720L280 700L245 725L228 715L250 680L275 650L268 615Z"/>
<path d="M430 975L460 945L510 930L560 915L600 905L650 905L700 920L720 960L700 990L720 1020L740 1050L735 1085L700 1110L665 1125L640 1150L600 1140L560 1130L520 1100L490 1065L450 1040L430 1010Z"/>
<path d="M850 985L880 960L920 940L960 945L1000 965L1025 995L1035 1030L1065 1045L1090 1065L1075 1095L1055 1120L1020 1135L980 1138L945 1125L925 1095L890 1090L860 1070L842 1030Z"/>
</g>
<defs><g id="b1o"><path d="M640 985L670 985L680 1010L710 1020L735 1045L740 1075L715 1085L700 1110L665 1118L655 1145L630 1150L620 1130L595 1135L595 1100L620 1090L625 1060L645 1050L640 1020L630 1000Z"/>
<path d="M850 985L880 960L920 940L960 945L1000 965L1025 995L1035 1030L1065 1045L1090 1065L1075 1095L1055 1120L1020 1135L980 1138L945 1125L925 1095L890 1090L860 1070L842 1030Z"/></g></defs><use href="#b1o" class="oo"/>
<defs><g id="b1r"><path d="M820 637H885V712H940V675H1010V712H1030V750H1050V790H1010V908H965V945H985V1025H1005V1060H965V1100H905V1060H880V1025H820V945H845V908H820V870H780V790H820V750H840V680H820Z"/>
<path d="M572 828H618V868H700V908H618V945H600V908H572Z"/><path d="M680 945H762V1022H700V985H680Z"/><path d="M1030 945H1090V1022H1045V985H1030Z"/></g></defs><use href="#b1r" class="ro"/>
<circle cx="882" cy="885" r="47" fill="#ec1c24"/><circle cx="888" cy="1048" r="47" fill="#f9a11b"/>
</g></g>
<rect class="fr" x="392.0" y="283.3" width="294.0" height="206.6"/>
<g clip-path="url(#cpB2)"><g transform="translate(389,529) scale(0.149402)"><rect width="2008" height="1581" fill="#411950"/><use href="#landB"/>
<g id="b2p"><polygon points="420,690 440,650 490,630 520,650 548,660 540,690 520,700 560,730 600,760 650,785 710,790 770,770 820,760 860,765 850,790 810,820 770,860 720,885 660,905 600,900 590,925 540,930 490,940 450,960 410,975 385,950 420,925 470,905 530,895 600,890 615,850 640,830 600,810 560,790 520,760 480,745 440,730"/>
<polygon points="605,965 650,975 690,960 740,955 800,950 830,940 880,935 920,905 960,890 1000,885 1025,880 1020,915 1000,945 1040,975 1050,1010 1070,1020 1055,1040 1065,1060 1040,1065 1010,1080 985,1100 940,1120 900,1125 860,1100 810,1080 760,1060 710,1045 685,1020 670,995 630,985"/>
<polygon points="1130,1000 1160,985 1200,990 1240,965 1290,940 1320,950 1360,935 1410,915 1460,905 1520,905 1500,930 1460,955 1420,970 1390,990 1365,1010 1355,1050 1350,1090 1330,1125 1290,1150 1250,1140 1225,1110 1180,1120 1130,1140 1090,1150 1100,1130 1130,1100 1120,1060 1130,1030"/></g>
<use href="#b2p" filter="url(#hm)"/><use href="#b2p" style="stroke-width:16" class="oo" />
<path d="M262 518Q300 535 338 520" class="oo"/><circle cx="585" cy="548" r="7" fill="#f9a11b"/>
<defs><g id="b2r"><path d="M1048 520H1140V558H1210V520H1335V558H1375V520H1395V560H1415V598H1395V748H1455V825H1440V865H1455V905H1435V945H1395V985H1295V1060H1255V1100H1165V1060H1145V1100H1130V1140H1048V1100H925V1060H900V1025H820V1060H780V1025H800V985H820V945H880V905H925V830H945V790H1065V750H1085V712H1065V675H1048V598H1085V560H1048Z"/>
<path d="M920 405H965V445H985V485H1010V522H965V485H945V445H920Z"/><path d="M718 560H742V598H718Z"/><path d="M247 637H292V677H247Z"/><path d="M962 1175H1010V1215H962Z"/><path d="M45 10H85V62H45Z"/><path d="M10 175H85V212H65V252H10Z"/></g></defs><use href="#b2r" class="ro"/>
<circle cx="1162" cy="826" r="48" fill="#ec1c24"/><circle cx="928" cy="985" r="48" fill="#f9a11b"/>
</g></g>
<rect class="fr" x="392.0" y="532.3" width="294.0" height="206.6"/>
<g clip-path="url(#cpB3)"><g transform="translate(389,778) scale(0.149402)"><rect width="2008" height="1581" fill="#411950"/><use href="#landB"/>
<g id="b3p"><polygon points="475,690 500,685 530,710 560,730 610,745 660,735 655,755 620,770 680,775 740,790 790,815 850,830 910,830 965,835 955,860 910,880 860,900 830,925 800,950 760,970 720,975 690,985 640,985 590,985 550,1000 510,1020 485,995 455,975 475,965 520,965 580,960 640,955 700,945 730,920 740,885 760,860 740,835 700,815 650,805 600,820 570,830 550,800 520,775 510,745 490,720"/>
<polygon points="710,1000 760,1005 810,1020 860,1005 910,990 960,985 1000,975 1050,960 1065,935 1095,935 1110,975 1125,1005 1100,1030 1080,1050 1095,1080 1100,1120 1115,1150 1090,1165 1050,1175 1010,1190 980,1170 960,1140 910,1120 870,1115 830,1100 810,1075 800,1045 760,1030 730,1020"/>
<path fill-rule="evenodd" d="M1230 960L1250 940L1290 935L1330 950L1370 940L1420 930L1460 925L1460 945L1500 945L1540 935L1580 920L1580 960L1580 1020L1540 1015L1490 1020L1450 1025L1440 1060L1430 1100L1400 1130L1380 1155L1340 1150L1300 1160L1270 1165L1240 1175L1230 1145L1220 1120L1245 1095L1225 1065L1235 1030L1240 990ZM1268 965L1305 965L1310 995L1275 1000Z"/></g>
<use href="#b3p" filter="url(#hm)"/><use href="#b3p" style="stroke-width:16" class="oo" />
<g fill="#f9a11b"><rect x="220" y="512" width="36" height="18"/><rect x="638" y="626" width="15" height="15"/><rect x="1808" y="1073" width="14" height="14"/><rect x="1794" y="1103" width="14" height="14"/><rect x="1620" y="914" width="12" height="12"/></g>
<defs><g id="b3r"><path d="M925 405H965V440H1048V480H1155V520H1500V560H1520V598H1500V675H1480V750H1520V830H1600V865H1580V905H1540V945H1500V985H1335V1022H1295V1060H1270V1100H1230V1140H1170V1178H1065V1140H1010V1100H965V1060H1025V985H985V945H1025V985H1048V945H1065V905H1048V865H1065V790H1170V828H1230V750H1250V712H1230V675H1170V637H1155V600H1130V560H1105V520H1025V480H945V440H925Z"/>
<path d="M800 365H865V445H840V405H800Z"/></g></defs><use href="#b3r" class="ro"/>
<circle cx="1268" cy="838" r="48" fill="#ec1c24"/><circle cx="1000" cy="1015" r="48" fill="#f9a11b"/>
</g></g>
<rect class="fr" x="392.0" y="781.3" width="294.0" height="206.6"/>
<g clip-path="url(#cpB4)"><g transform="translate(389,1027) scale(0.149402)"><rect width="2008" height="1581" fill="#411950"/><use href="#landB"/>
<polygon points="770,1030 720,1050 680,1070 660,1095 690,1085 740,1060 775,1045" fill="#2f6f8e"/>
<g id="b4p"><polygon points="755,730 790,722 820,740 815,760 770,760"/>
<polygon points="780,810 800,785 840,775 880,790 875,815 920,820 925,860 890,865 860,850 830,880 790,885 785,850"/>
<polygon points="940,900 990,880 1040,860 1070,850 1095,870 1085,910 1060,940 1040,970 1020,1000 1000,1020 960,1040 900,1040 840,1045 790,1050 770,1040 770,1015 820,1010 880,1005 930,990 950,950 940,925"/>
<polygon points="900,1080 930,1060 960,1080 985,1105 1040,1085 1080,1080 1130,1100 1180,1090 1215,1080 1240,1105 1250,1130 1225,1155 1190,1170 1170,1210 1140,1245 1100,1265 1060,1290 1040,1265 1000,1255 960,1245 930,1215 915,1180 920,1140 905,1110"/>
<polygon points="1300,970 1340,940 1330,910 1380,880 1430,860 1490,865 1530,885 1580,905 1640,905 1690,925 1670,950 1640,980 1600,985 1560,985 1560,1020 1600,1050 1640,1060 1650,1090 1600,1095 1570,1070 1540,1030 1500,1010 1450,1020 1400,1030 1350,1025 1310,1010"/></g>
<use href="#b4p" filter="url(#hm)"/><use href="#b4p" style="stroke-width:14" class="oo" />
<g fill="#f9a11b"><rect x="268" y="450" width="36" height="24" rx="8"/><rect x="1190" y="915" width="30" height="18"/><rect x="1235" y="935" width="20" height="14"/><rect x="1180" y="1015" width="14" height="14"/><rect x="1660" y="1075" width="16" height="16"/><rect x="1775" y="1120" width="14" height="12"/></g>
<defs><g id="b4r"><path d="M1250 400H1272V440H1500V480H1580V520H1560V560H1600V598H1620V675H1640V712H1660V750H1640V790H1620V865H1640V985H1520V1060H1480V1025H1310V1060H1272V1100H1170V945H1150V865H1170V905H1335V868H1415V790H1395V750H1375V712H1355V675H1335V637H1315V560H1230V520H1210V440H1250Z"/>
<path d="M1600 1022H1640V1060H1600Z"/><path d="M1640 1100H1660V1135H1722V1100H1762V1135H1722V1175H1640Z"/></g></defs><use href="#b4r" class="ro"/>
<circle cx="1452" cy="748" r="48" fill="#ec1c24"/><circle cx="1125" cy="1065" r="48" fill="#f9a11b"/>
</g></g>
<rect class="fr" x="392.0" y="1030.3" width="294.0" height="206.6"/>
<g clip-path="url(#cpB5)"><g transform="translate(389,1276) scale(0.149402)"><rect width="2008" height="1581" fill="#411950"/><use href="#landB"/>
<path filter="url(#bf)" d="M1500 1090Q1560 1200 1660 1180T1840 1050" fill="none" stroke="#2b6f8a" stroke-width="40" opacity=".45"/>
<g id="b5p"><polygon points="840,915 870,910 900,935 915,960 900,975 870,955 850,940"/>
<polygon points="890,1010 930,990 980,985 1030,990 1030,1020 1080,1010 1120,985 1150,950 1165,960 1150,1000 1130,1050 1110,1090 1080,1110 1050,1140 1030,1170 1060,1185 1040,1215 1000,1225 970,1215 1000,1180 1010,1140 1000,1100 970,1085 990,1055 950,1065 905,1060 890,1035"/>
<polygon points="660,1245 700,1215 740,1190 780,1165 810,1165 850,1195 890,1230 930,1255 960,1265 1000,1250 1040,1235 1060,1260 1040,1290 1010,1320 980,1310 950,1290 920,1305 960,1330 1000,1345 1050,1310 1080,1280 1130,1275 1180,1240 1230,1200 1280,1165 1310,1180 1300,1220 1260,1250 1230,1290 1200,1330 1170,1370 1160,1420 940,1420 950,1370 920,1340 905,1300 870,1270 830,1240 790,1215 760,1235 720,1265 680,1280"/>
<polygon points="1435,990 1470,975 1500,985 1540,975 1560,990 1580,1020 1565,1060 1545,1100 1500,1090 1470,1060 1440,1050"/></g>
<use href="#b5p" filter="url(#hm)"/><use href="#b5p" style="stroke-width:16" class="oo" />
<path d="M1592 770L1688 692" style="stroke-width:14" class="oo" />
<g fill="#f9a11b"><rect x="185" y="585" width="16" height="20"/><rect x="1165" y="895" width="18" height="18"/><rect x="1265" y="925" width="18" height="18"/><rect x="1300" y="905" width="22" height="30"/><rect x="1240" y="965" width="22" height="18"/><rect x="1590" y="935" width="14" height="14"/><rect x="1312" y="1145" width="16" height="16"/><rect x="1190" y="1120" width="14" height="14"/></g>
<defs><g id="b5r"><path d="M1170 440H1275V480H1295V440H1440V520H1500V440H1520V480H1600V520H1620V560H1600V598H1620V637H1685V675H1640V712H1620V828H1560V905H1500V790H1452V675H1440V598H1415V558H1395V520H1295V558H1275V520H1150V480H1170Z"/>
<path d="M1355 828H1415V868H1395V905H1480V945H1500V1060H1440V1100H1310V1060H1190V1022H1230V985H1272V945H1295V868H1355Z"/>
<path d="M1210 828H1250V868H1275V905H1230V868H1210Z"/>
<path d="M203 480H232V520H203Z"/><path d="M1148 595H1172V637H1148Z"/><path d="M985 980H1028V1020H985Z"/><path d="M1048 1060H1088V1100H1048Z"/><path d="M1008 1135H1045V1175H1008Z"/></g></defs><use href="#b5r" class="ro"/>
<circle cx="1448" cy="757" r="48" fill="#ec1c24"/><circle cx="1112" cy="1230" r="48" fill="#f9a11b"/>
</g></g>
<rect class="fr" x="392.0" y="1279.3" width="294.0" height="206.6"/>
<g clip-path="url(#cpC0)"></g>
<rect class="fr" x="697.7" y="34.3" width="294.0" height="206.6"/>
<g clip-path="url(#cpC1)"></g>
<rect class="fr" x="697.7" y="283.3" width="294.0" height="206.6"/>
<g clip-path="url(#cpC2)"><g transform="translate(694,529) scale(0.149402)"><rect width="2008" height="1581" fill="#411950"/><use href="#landB" x="3"/>
<g transform="translate(3,0)"><use href="#b2r" filter="url(#bl)"/><use href="#b2r" style="stroke-width:16;stroke-linejoin:miter" class="oo"  />
<circle cx="1150" cy="822" r="44" fill="#f9a11b"/><circle cx="1162" cy="826" r="48" fill="#ec1c24"/></g>
</g></g>
<rect class="fr" x="697.7" y="532.3" width="294.0" height="206.6"/>
<g clip-path="url(#cpC3)"><g transform="translate(694,778) scale(0.149402)"><rect width="2008" height="1581" fill="#411950"/><use href="#landB" x="3"/>
<path filter="url(#bf)" d="M90 250Q70 380 95 500" fill="none" stroke="#3d3a78" stroke-width="26" opacity=".6"/>
<g id="c3p"><polygon points="1160,660 1200,640 1240,610 1260,580 1280,615 1310,640 1340,660 1380,640 1410,610 1450,595 1500,610 1540,630 1550,670 1530,720 1520,770 1560,800 1600,770 1610,800 1580,840 1640,860 1690,830 1710,790 1700,850 1670,910 1620,950 1640,990 1620,1010 1560,975 1500,990 1440,990 1400,1010 1370,1040 1350,1080 1320,1110 1270,1130 1230,1150 1180,1165 1140,1180 1080,1175 1040,1160 1010,1120 990,1080 960,1075 920,1100 880,1110 900,1070 930,1030 960,1000 1000,985 1030,960 1050,920 1040,880 1070,840 1110,820 1160,830 1200,810 1230,780 1240,750 1190,760 1180,720 1160,700"/></g>
<use href="#c3p" filter="url(#bl)"/>
<path filter="url(#bf)" d="M1275 960Q1250 1060 1080 1120" fill="none" stroke="#3fb57a" stroke-width="14" opacity=".8"/>
<use href="#c3p" style="stroke-width:20" class="oo" />
<g fill="#f9a11b"><polygon points="1620,1010 1680,1050 1740,1060 1800,1045 1780,1090 1740,1140 1720,1110 1680,1075 1640,1050"/>
<polygon points="1215,890 1260,870 1330,865 1400,850 1395,880 1340,900 1300,930 1250,920"/>
<polygon points="1290,985 1340,960 1400,965 1440,985 1380,1010 1320,1020"/>
<polygon points="1095,995 1130,980 1165,1000 1150,1020 1110,1020"/>
<polygon points="1470,805 1520,795 1525,830 1480,835"/>
<polygon points="1640,870 1700,840 1690,900 1650,930 1610,930"/>
<rect x="72" y="360" width="22" height="80" rx="8"/><rect x="125" y="84" width="14" height="14"/><rect x="860" y="588" width="16" height="36" rx="6"/><polygon points="365,695 410,672 415,685 375,710"/><rect x="328" y="690" width="12" height="12"/>
<rect x="1165" y="560" width="28" height="18"/><rect x="1040" y="470" width="60" height="22"/><rect x="1105" y="495" width="24" height="20"/><rect x="1095" y="1210" width="40" height="14"/></g>
<use href="#b3r" style="stroke-width:9" class="ro"  x="4"/>
<circle cx="1272" cy="836" r="48" fill="#ec1c24"/><circle cx="1277" cy="918" r="45" fill="#f9a11b"/><circle cx="1272" cy="836" r="48" fill="#ec1c24"/>
</g></g>
<rect class="fr" x="697.7" y="781.3" width="294.0" height="206.6"/>
<g clip-path="url(#cpC4)"><g transform="translate(694,1027) scale(0.149402)"><rect width="2008" height="1581" fill="#411950"/>
<polygon filter="url(#ob)" points="1700,520 1740,540 1730,600 1700,640 1680,700 1700,760 1740,800 1800,790 1810,840 1850,870 1840,930 1870,920 1850,980 1800,1020 1780,1060 1800,1100 1820,1150 1800,1180 1740,1185 1680,1175 1640,1160 1600,1130 1580,1100 1610,1060 1620,1000 1600,960 1560,945 1520,960 1480,970 1440,985 1380,975 1340,995 1320,1030 1310,1080 1280,1120 1230,1150 1180,1180 1130,1200 1080,1215 1020,1225 960,1220 935,1205 980,1170 1020,1120 1070,1080 1120,1050 1150,1000 1180,960 1160,930 1100,900 1095,875 1150,860 1200,840 1260,825 1320,830 1360,815 1340,790 1300,780 1305,750 1350,740 1400,760 1440,790 1500,780 1540,740 1560,690 1580,640 1610,590 1650,550"/>
<g filter="url(#bl)"><polygon points="1690,590 1700,620 1640,700 1600,780 1560,860 1480,900 1440,870 1480,820 1540,770 1580,700 1620,630"/>
<polygon points="1400,940 1340,960 1280,1000 1250,1060 1200,1110 1100,1160 1020,1190 1050,1150 1120,1110 1200,1050 1240,990 1300,950 1360,925"/>
<polygon points="1200,870 1280,850 1340,850 1330,880 1250,895 1200,895"/>
<polygon points="1650,960 1700,940 1700,1000 1660,1050 1650,1120 1700,1160 1640,1150 1620,1100 1630,1020"/>
<polygon points="1720,780 1760,790 1780,850 1760,900 1720,880 1700,830"/></g>
<use href="#landB" x="3"/>
<g fill="#f9a11b"><rect x="278" y="231" width="18" height="14"/><rect x="88" y="366" width="14" height="14"/><rect x="324" y="548" width="14" height="14"/><rect x="380" y="541" width="14" height="14"/><polygon points="203,590 218,590 262,640 248,655"/><rect x="533" y="598" width="14" height="14"/><rect x="475" y="696" width="20" height="18"/><rect x="505" y="730" width="22" height="18"/><rect x="1000" y="640" width="18" height="16"/>
<rect x="1232" y="530" width="20" height="24"/><rect x="1292" y="565" width="22" height="20"/><rect x="1345" y="580" width="26" height="40"/><rect x="1400" y="660" width="30" height="26"/><rect x="1420" y="615" width="14" height="14"/><rect x="1105" y="1280" width="22" height="28"/><rect x="1260" y="1175" width="14" height="14"/><rect x="1285" y="1155" width="12" height="12"/><rect x="1790" y="595" width="10" height="10"/><rect x="1765" y="650" width="10" height="10"/></g>
<use href="#b4r" style="stroke-width:9" class="ro"  x="4"/>
<circle cx="1455" cy="748" r="48" fill="#ec1c24"/><circle cx="1425" cy="918" r="46" fill="#f9a11b"/><circle cx="1448" cy="960" r="30" fill="#f9a11b"/>
</g></g>
<rect class="fr" x="697.7" y="1030.3" width="294.0" height="206.6"/>
<g clip-path="url(#cpC5)"><g transform="translate(694,1276) scale(0.149402)"><rect width="2008" height="1581" fill="#411950"/>
<path filter="url(#bf)" d="M1990 640Q1850 800 1860 1000T1740 1300" fill="none" stroke="#33407e" stroke-width="120" opacity=".55"/>
<path filter="url(#bf)" d="M1560 1130Q1650 1200 1760 1130T1860 960" fill="none" stroke="#2f6a8c" stroke-width="50" opacity=".55"/>
<polygon filter="url(#bf)" points="1100,1180 1300,1150 1330,1300 1250,1400 1060,1420" fill="#3a3f80" opacity=".6"/>
<g id="c5p"><polygon points="2000,480 1940,500 1900,470 1850,460 1790,470 1740,480 1720,520 1690,550 1660,590 1680,620 1740,600 1800,560 1860,540 1900,560 1860,590 1800,620 1760,650 1720,690 1700,740 1720,790 1700,840 1680,880 1660,910 1700,900 1740,860 1760,800 1780,740 1770,690 1820,660 1880,640 1930,610 2000,590"/>
<polygon points="1130,1010 1160,970 1220,930 1260,900 1320,895 1380,905 1440,905 1500,900 1560,905 1620,900 1600,930 1560,950 1540,985 1480,1010 1430,990 1380,980 1330,985 1310,1010 1330,1040 1340,1100 1330,1150 1300,1180 1310,1230 1270,1260 1240,1290 1200,1270 1200,1220 1210,1170 1190,1120 1210,1070 1240,1020 1260,960 1220,970 1180,1000"/>
<polygon points="1010,1420 1060,1330 1090,1270 1130,1210 1140,1260 1120,1310 1140,1350 1100,1380 1080,1420"/>
<polygon points="1520,1080 1550,1080 1545,1130 1525,1120"/></g>
<use href="#c5p" filter="url(#ob)"/>
<g filter="url(#hm)"><polygon points="1240,1010 1290,990 1300,1060 1290,1150 1270,1230 1230,1250 1225,1180 1230,1090"/><polygon points="1270,945 1340,925 1345,945 1280,975"/>
<polygon points="1525,985 1560,985 1560,1020 1585,1020 1585,1050 1560,1050 1560,1075 1525,1075 1525,1040 1510,1040 1510,1010 1525,1010"/>
<polygon points="2000,545 1900,590 1800,640 1810,660 1900,625 2000,580"/><polygon points="1060,1400 1090,1340 1115,1320 1110,1370 1085,1410"/></g>
<polygon points="1745,515 1800,500 1830,530 1790,560 1750,560" fill="#3b3a7c"/>
<path d="M1525 985H1560V1020H1585V1050H1560V1075H1525V1040H1510V1010H1525Z" style="stroke-width:8" class="oo" />
<use href="#landB" x="3"/>
<g fill="#f9a11b"><rect x="441" y="658" width="14" height="14"/><rect x="293" y="768" width="16" height="14"/><rect x="350" y="818" width="26" height="16"/><rect x="546" y="849" width="12" height="12"/><rect x="595" y="898" width="14" height="14"/><rect x="620" y="906" width="12" height="12"/><rect x="662" y="902" width="46" height="20" rx="8"/><rect x="1108" y="748" width="36" height="20" rx="8"/><rect x="1168" y="722" width="14" height="14"/><rect x="184" y="318" width="14" height="16"/></g>
<path d="M1490 800L1560 790L1640 690L1700 640" fill="none" stroke="#f9a11b" stroke-width="12" stroke-dasharray="12 18"/>
<path d="M1700 940L1780 900L1830 820L1850 760" fill="none" stroke="#f9a11b" stroke-width="14" stroke-dasharray="10 14"/>
<use href="#b5r" style="stroke-width:9" class="ro"  x="3"/>
<circle cx="1450" cy="757" r="48" fill="#ec1c24"/><circle cx="1512" cy="925" r="48" fill="#f9a11b"/>
</g></g>
<rect class="fr" x="697.7" y="1279.3" width="294.0" height="206.6"/>
<g clip-path="url(#cpD0)"><g transform="translate(1098,31) scale(0.149402)"><rect width="2008" height="1581" fill="#fff"/>
<defs><clipPath id="d0c"><path id="d0s" d="M65 0H545L560 60V100H580V60L575 0H650L660 60L650 100L665 170L660 210L640 240L620 250L610 290L600 330L580 370L555 400L520 420L490 440L470 470L480 500L470 530L440 560L420 580L390 600L350 620L320 645L305 670L310 690H380L395 675L415 690L420 720L440 735L470 720L510 690L520 660L545 680L565 690L590 675L610 690H640L660 700L700 690L730 670L745 650L700 640L660 635L640 650H590V610L580 590L610 565H650L690 575L720 595L745 600L760 625L745 650L790 640L840 620L860 600L880 580L900 560L910 520L895 490L885 460L895 430L940 420L950 395L1000 390H1050L1080 400L1110 420L1130 445L1140 430L1180 425L1220 430L1260 415L1270 395H1310L1340 405L1380 420L1440 410L1460 380L1470 355L1500 360L1540 375L1580 355L1640 335L1700 340L1760 350L1810 360L1840 330L1880 305L1930 295L2000 288V745L1940 760L1900 770L1860 790L1830 810L1790 850L1760 880L1750 920L1755 960L1750 1000L1720 1020L1690 1040L1660 1035L1620 1020H1580L1560 1010L1520 1000L1480 990L1450 960L1430 920L1440 890L1400 870L1350 865L1300 870L1265 860V900L1280 950L1290 1000L1310 1040L1325 1080L1330 1130V1200L1335 1280L1330 1330L1300 1345L1280 1320L1250 1330L1200 1340L1160 1330L1110 1365H1060L1040 1330L1020 1290L1000 1250L985 1240H940L900 1255L860 1270L850 1300L800 1310L760 1320L720 1310L680 1330L640 1340L600 1360L570 1390L555 1420H230L215 1380L200 1340L190 1300L200 1250L215 1200L200 1150L180 1100L150 1060L130 1020L125 980L110 940L100 900L90 860L110 840L150 815L165 780L160 750L140 740V700L160 690L165 650L150 620L165 580L130 560L95 550V520L120 500L115 460L110 420L115 380L110 340L120 300L130 260L115 220L100 180L105 140L90 100L85 60Z"/></clipPath></defs>
<g clip-path="url(#d0c)"><rect width="2008" height="1581" fill="#433e85"/>
<g filter="url(#bf)"><polygon fill="#2c738e" points="300,260 360,240 420,300 400,400 340,500 280,600 200,640 160,600 220,500 260,400"/><polygon fill="#2c738e" points="560,110 650,110 660,210 600,330 540,400 500,380 540,280 560,200"/>
<ellipse cx="690" cy="900" rx="120" ry="260" fill="#26828e"/><ellipse cx="470" cy="1290" rx="100" ry="200" fill="#24878e"/><ellipse cx="1230" cy="1230" rx="110" ry="120" fill="#365c8d"/>
<polygon fill="#2c738e" points="1250,420 1460,400 1640,340 1840,330 2000,295 2000,400 1880,420 1700,480 1560,520 1400,540 1300,520 1200,470"/><ellipse cx="1400" cy="505" rx="110" ry="35" fill="#35b779"/>
<polygon fill="#26828e" points="1440,800 1600,840 1760,800 1760,1040 1560,1020 1450,960"/>
<ellipse cx="500" cy="1030" rx="190" ry="180" fill="#23898e"/><ellipse cx="500" cy="1030" rx="120" ry="120" fill="#3fbc73"/><ellipse cx="490" cy="1010" rx="50" ry="60" fill="#b5de2b"/><ellipse cx="1700" cy="910" rx="40" ry="95" fill="#c8e020"/></g></g>
<g fill="#46327e"><path d="M15 1360L40 1350L45 1420H15Z"/><path d="M140 1280L175 1270L185 1320L150 1330Z"/><path d="M165 1380L185 1370L190 1400L170 1420Z"/><rect x="45" y="1180" width="8" height="35"/></g>
<g fill="#fff"><rect x="990" y="540" width="30" height="20"/><path d="M1075 960L1100 945L1130 960L1165 965V985L1120 975L1075 980Z"/><path d="M1175 1065H1250L1245 1100H1185Z"/><rect x="175" y="270" width="20" height="20"/><rect x="230" y="22" width="15" height="53"/><rect x="300" y="22" width="30" height="18"/><rect x="465" y="60" width="30" height="20"/><rect x="590" y="150" width="10" height="25"/><rect x="1190" y="830" width="15" height="20"/></g>
<linearGradient id="d0g" x1="0" x2="1"><stop offset="0" stop-color="#21918c"/><stop offset=".6" stop-color="#7ad151"/><stop offset="1" stop-color="#fde725"/></linearGradient>
<polygon fill="url(#d0g)" points="720,25 790,22 850,60 855,95 830,110 800,80 760,75 740,50"/><polygon fill="#fde725" points="1910,22 2000,22 2000,75 1960,50 1930,45"/>
<use href="#e0r" x="-4" fill="none" stroke="#ee3a22" stroke-width="8"/>
<circle cx="510" cy="1030" r="48" fill="#ec1c24"/>
</g></g>
<rect class="fr" x="1099.9" y="34.3" width="294.0" height="206.6"/>
<g clip-path="url(#cpD1)"><g transform="translate(1098,280) scale(0.149402)"><rect width="2008" height="1581" fill="#fff"/>
<defs><clipPath id="d1c">
<polygon points="20,22 300,22 300,60 250,70 200,60 150,100 100,110 60,80 20,90"/><polygon points="310,30 385,30 385,130 330,140 300,100"/>
<polygon points="70,180 130,175 160,200 200,215 260,200 350,190 400,160 450,165 480,200 440,230 400,250 380,270 340,240 300,230 290,270 310,300 330,340 320,380 340,420 400,400 460,380 490,400 500,440 480,480 450,520 420,560 380,600 340,620 310,660 300,700 340,720 370,680 420,680 420,740 470,740 500,700 520,680 530,720 530,760 500,760 480,790 440,770 400,790 360,780 330,740 290,760 250,720 240,680 200,700 160,720 130,700 110,740 80,750 75,790 100,830 130,850 150,900 130,940 110,900 90,860 70,800 70,760 100,720 100,690 140,660 190,640 200,600 180,560 200,520 190,480 220,440 200,400 210,340 230,300 200,260 180,230 150,250 160,290 130,320 90,320 70,290 50,250 50,210"/>
<polygon points="550,620 600,580 700,560 760,590 800,600 850,590 880,540 940,550 960,520 920,490 960,470 1040,490 1050,530 1020,560 1040,610 1070,660 1110,690 1200,700 1230,720 1220,760 1190,780 1180,740 1110,740 1120,800 1130,850 1100,840 1060,800 1030,800 1060,850 1100,900 1150,940 1180,950 1100,960 1110,1000 1160,1010 1160,1060 1180,1100 1210,1140 1220,1180 1190,1200 1200,1300 1160,1320 1080,1330 1050,1280 1050,1240 1010,1200 960,1210 940,1230 940,1180 960,1130 940,1080 900,1080 880,1120 850,1200 800,1240 760,1280 700,1300 620,1330 580,1340 570,1280 560,1230 560,1160 580,1110 620,1070 680,1030 740,1010 720,960 680,940 700,900 680,880 690,790 720,680 640,650 560,640"/>
<polygon points="1560,345 1670,345 1660,390 1640,400 1630,440 1600,440 1610,400 1550,395"/><polygon points="1780,400 1800,390 1830,420 1870,390 1900,390 1920,430 1945,470 1920,500 1915,540 1920,600 1900,610 1890,570 1900,540 1840,540 1830,500 1810,460 1790,430"/>
<polygon points="1370,560 1395,545 1450,600 1475,620 1470,650 1440,630 1400,600 1370,580"/><polygon points="1280,660 1310,640 1310,670 1280,670"/><polygon points="1250,760 1300,755 1320,740 1340,770 1320,800 1290,790 1250,785"/><polygon points="1060,610 1090,585 1130,590 1120,630 1070,630"/>
<polygon points="90,985 110,1020 150,1030 180,1020 185,1060 190,1100 165,1090 160,1060 130,1060 100,1030"/><polygon points="240,970 280,970 280,1000 260,1020 240,1000"/><polygon points="210,1065 245,1065 240,1095 210,1095"/><polygon points="250,1160 275,1160 275,1190 250,1190"/><polygon points="170,1220 240,1215 245,1260 200,1290 175,1260"/><polygon points="130,1150 150,1170 185,1180 185,1190 145,1185"/><polygon points="20,1290 40,1290 60,1260 110,1260 100,1290 80,1300 80,1330 20,1330"/><polygon points="75,1175 85,1175 95,1240 75,1230"/><polygon points="330,1260 350,1260 350,1290 330,1290"/><polygon points="450,1220 470,1180 500,1160 520,1180 510,1220 490,1260 490,1300 470,1330 450,1290"/><polygon points="440,1350 470,1350 480,1380 460,1410 445,1390"/><polygon points="510,1350 570,1350 560,1375 530,1380"/><polygon points="335,1390 360,1390 355,1410 340,1410"/><rect x="40" y="810" width="12" height="15"/><rect x="35" y="890" width="15" height="15"/><rect x="45" y="600" width="30" height="12"/><rect x="60" y="470" width="40" height="20"/>
<polygon points="325,965 375,965 400,945 415,945 415,985 395,1005 325,1005"/><polygon points="385,1040 520,990 530,1040 480,1080 410,1100 385,1100"/><polygon points="200,790 330,770 330,830 210,855"/><polygon points="425,770 485,790 485,870 440,890"/>
<polygon points="555,620 720,640 720,750 700,790 690,890 650,910 630,935 575,935 575,700 590,655 555,655"/><polygon points="450,940 560,900 640,930 740,975 740,1010 680,1030 620,1070 520,1060 450,1000"/></clipPath></defs>
<g clip-path="url(#d1c)"><rect width="2008" height="1581" fill="#46327e"/>
<g filter="url(#bf)"><polygon fill="#2c738e" points="240,250 330,260 330,400 300,520 240,640 180,640 220,500 230,380"/><ellipse cx="770" cy="760" rx="130" ry="190" fill="#26828e"/><ellipse cx="640" cy="780" rx="85" ry="170" fill="#5ec962"/><ellipse cx="580" cy="980" rx="120" ry="70" fill="#5ec962"/><ellipse cx="620" cy="780" rx="30" ry="90" fill="#dde318"/><ellipse cx="420" cy="190" rx="90" ry="40" fill="#2c738e"/><ellipse cx="120" cy="1040" rx="70" ry="50" fill="#26828e"/><ellipse cx="1110" cy="1300" rx="80" ry="50" fill="#26828e"/><ellipse cx="570" cy="640" rx="60" ry="40" fill="#21918c"/><ellipse cx="1620" cy="370" rx="70" ry="40" fill="#31688e"/></g>
<g fill="#d8e219"><polygon points="265,800 325,785 320,820 270,828"/><polygon points="340,975 400,965 400,1000 340,1000"/><polygon points="420,1030 500,1010 500,1050 430,1060"/><polygon points="480,925 560,905 600,930 540,945"/></g></g>
<g fill="#fff"><polygon points="980,810 1020,810 1000,900 980,880"/><polygon points="1030,790 1050,790 1120,900 1160,950 1100,920"/><rect x="880" y="1020" width="20" height="20"/><rect x="940" y="1040" width="50" height="20"/><rect x="1080" y="1090" width="20" height="20"/><rect x="1100" y="1180" width="30" height="15"/><rect x="950" y="540" width="30" height="15"/><polygon points="230,440 260,420 300,520 260,600 240,520"/><rect x="120" y="200" width="30" height="40"/><rect x="100" y="760" width="60" height="40"/></g>
<polygon fill="#26828e" points="1440,500 1470,470 1540,465 1560,450 1590,490 1560,500 1530,520 1500,500 1450,515"/><polygon fill="#26828e" points="1275,405 1305,405 1290,435"/><polygon fill="#7ad151" points="1470,405 1500,405 1485,430"/>
<linearGradient id="d1g" x1="0" x2="1"><stop offset="0" stop-color="#35b779"/><stop offset=".4" stop-color="#d8e219"/><stop offset="1" stop-color="#fde725"/></linearGradient>
<polygon fill="url(#d1g)" points="670,125 700,95 760,70 810,60 840,65 800,100 750,125 710,150 680,150"/><rect x="570" y="235" width="30" height="32" fill="#7ad151"/><rect x="668" y="190" width="12" height="20" fill="#21918c"/>
<use href="#e1r" style="stroke-width:8" class="ro"  x="-4"/>
<g style="stroke-width:9" class="oo" ><path d="M545 1195Q580 1100 700 1015"/><path d="M620 945L680 940L740 975"/><path d="M700 1020L740 1010L780 1045L745 1052L710 1045Z"/></g>
<path d="M460 1115L500 1075L530 1055" style="stroke-width:12" class="oo" />
<path d="M960 968L1046 1058" fill="none" stroke="#f9a11b" stroke-width="10" stroke-dasharray="9 14"/>
<circle cx="540" cy="848" r="48" fill="#ec1c24"/><circle cx="578" cy="992" r="52" fill="#f9a11b"/>
</g></g>
<rect class="fr" x="1099.9" y="283.3" width="294.0" height="206.6"/>
<g clip-path="url(#cpD2)"><g transform="translate(1098,529) scale(0.149402)"><rect width="2008" height="1581" fill="#fff"/>
<defs><clipPath id="d2c">
<polygon points="0,0 525,0 525,100 535,200 545,330 540,400 500,450 490,500 450,520 410,480 380,500 380,520 280,520 270,560 285,600 260,640 250,680 330,700 385,720 400,760 440,800 470,830 490,870 480,900 450,930 450,960 480,990 520,1000 580,1030 610,1060 620,1120 600,1140 560,1200 560,1240 580,1280 600,1320 580,1370 555,1420 400,1420 380,1340 390,1290 350,1240 330,1190 300,1200 290,1180 320,1150 330,1100 310,1050 290,1000 270,950 210,960 180,940 170,900 130,870 100,890 90,870 110,830 120,780 115,740 145,730 150,680 130,640 155,600 165,560 175,520 150,520 130,480 140,420 140,350 120,300 80,250 50,200 40,120 20,60 0,60"/>
<polygon points="880,470 910,420 940,400 1000,390 1060,400 1110,430 1130,470 1160,430 1230,430 1260,400 1300,390 1360,400 1420,420 1450,390 1460,350 1560,350 1580,360 1700,350 1740,380 1810,360 1830,330 1900,300 2000,288 2000,590 1900,600 1800,620 1740,600 1700,630 1680,630 1640,580 1600,540 1520,540 1480,560 1440,580 1380,560 1330,560 1350,590 1420,600 1500,590 1580,590 1610,640 1640,690 1700,710 1740,720 1740,760 1690,780 1640,750 1600,730 1500,730 1400,740 1300,760 1240,770 1220,800 1250,850 1270,900 1290,1000 1310,1050 1320,1100 1330,1200 1335,1280 1320,1340 1290,1340 1300,1290 1280,1240 1240,1230 1160,1220 1140,1180 1150,1120 1120,1060 1100,1000 1080,940 1060,880 1090,830 1050,820 1040,770 1020,720 1000,680 980,620 960,560 930,520 910,560 890,590 880,540"/>
<polygon points="1400,800 1430,790 1460,830 1500,840 1520,870 1560,860 1600,840 1640,830 1700,820 1740,850 1750,900 1760,970 1740,1010 1690,1040 1660,1020 1640,990 1620,1010 1590,980 1560,990 1520,970 1480,980 1440,950 1420,910 1440,880 1410,850"/>
<polygon points="770,660 810,660 850,740 880,820 910,900 940,980 970,1050 960,1060 930,1000 900,930 870,860 840,790 800,720"/><polygon points="800,950 830,940 880,1030 920,1100 960,1160 970,1190 940,1190 900,1170 870,1190 850,1130 830,1060 810,1000"/><polygon points="1030,970 1060,960 1080,1010 1090,1080 1070,1120 1040,1130 1030,1060 1020,1040"/>
<polygon points="690,740 720,700 740,740 760,780 790,800 800,760 830,770 810,830 780,880 760,850 740,790 710,770"/><polygon points="725,1100 750,1100 760,1150 750,1200 730,1180"/><polygon points="720,1250 760,1220 790,1240 760,1260 730,1270"/><polygon points="1060,780 1090,760 1120,800 1090,830 1060,820"/><rect x="1110" y="1220" width="50" height="30"/>
<polygon points="1040,1310 1080,1290 1140,1290 1180,1310 1220,1320 1200,1340 1150,1320 1100,1320 1050,1330"/><polygon points="1060,1350 1090,1350 1080,1385 1065,1380"/><polygon points="460,740 540,740 560,800 530,820 500,790 470,780"/><rect x="920" y="680" width="20" height="40"/>
<polygon points="1790,720 1810,720 1830,750 1800,760"/><rect x="1860" y="755" width="70" height="15"/><rect x="1790" y="780" width="40" height="20"/><rect x="190" y="1060" width="25" height="35"/><rect x="290" y="1180" width="40" height="20"/><polygon points="330,1280 360,1270 370,1320 350,1320"/><rect x="95" y="345" width="30" height="15"/><polygon points="610,1180 630,1200 610,1230"/><polygon points="600,1100 625,1120 600,1140"/><rect x="695" y="985" width="35" height="15"/>
<polygon points="440,870 545,905 545,925 450,930"/>
</clipPath></defs>
<g clip-path="url(#d2c)"><rect width="2008" height="1581" fill="#46327e"/>
<g filter="url(#bf)"><ellipse cx="350" cy="400" rx="90" ry="70" fill="#26828e"/><polygon fill="#2c738e" points="200,680 330,700 420,800 470,950 560,1100 520,1200 420,1180 340,1000 260,900 180,800"/><ellipse cx="350" cy="790" rx="60" ry="70" fill="#35b779"/><ellipse cx="420" cy="1100" rx="50" ry="60" fill="#21918c"/>
<polygon fill="#26828e" points="1250,390 1460,350 1480,480 1420,520 1300,500 1250,450"/><ellipse cx="1460" cy="450" rx="30" ry="50" fill="#5ec962"/><ellipse cx="1930" cy="310" rx="80" ry="40" fill="#26828e"/><ellipse cx="1730" cy="960" rx="50" ry="80" fill="#26828e"/><ellipse cx="1310" cy="1300" rx="40" ry="80" fill="#26828e"/><ellipse cx="760" cy="780" rx="80" ry="70" fill="#26828e"/><ellipse cx="1130" cy="1320" rx="100" ry="30" fill="#2c738e"/><rect x="1850" y="750" width="90" height="25" fill="#26828e"/></g></g>
<g fill="#fff"><rect x="1170" y="1060" width="80" height="50"/><rect x="1320" y="500" width="30" height="30"/><polygon points="1170,760 1250,760 1230,790 1170,790"/><rect x="1160" y="820" width="40" height="20"/><polygon points="1500,890 1540,880 1560,920 1520,940"/><polygon points="1580,880 1620,870 1640,920 1600,940"/><polygon points="1660,870 1700,860 1700,930 1670,940"/><rect x="170" y="730" width="30" height="20"/><rect x="1270" y="650" width="14" height="20"/></g>
<polygon fill="#fde725" points="855,110 875,75 895,110"/><rect x="1825" y="328" width="28" height="17" fill="#fde725"/>
<polygon fill="#fde725" points="465,920 485,870 500,900 545,905 545,925 470,925"/>
<use href="#e2r" style="stroke-width:8" class="ro"  x="-4"/>
<g fill="#ec1c24"><rect x="264" y="672" width="22" height="23"/><rect x="728" y="770" width="16" height="25"/></g>
<g fill="#f9a11b"><polygon points="366,925 386,920 426,970 456,1010 436,1040 406,985 376,950"/><polygon points="486,1090 506,1100 466,1150 446,1150"/><polygon points="521,1100 576,1095 571,1150 546,1225 516,1215 501,1190 521,1150"/><polygon points="560,1020 600,1020 620,1060 600,1090 570,1080"/><rect x="1088" y="1045" width="12" height="18"/></g>
<circle cx="515" cy="1048" r="55" fill="#f9a11b"/><circle cx="430" cy="868" r="50" fill="#ec1c24"/>
</g></g>
<rect class="fr" x="1099.9" y="532.3" width="294.0" height="206.6"/>
<g clip-path="url(#cpD3)"><g transform="translate(1098,778) scale(0.149402)"><rect width="2008" height="1581" fill="#fff"/>
<defs><clipPath id="d3c">
<polygon points="0,0 830,0 850,50 900,90 915,120 915,150 860,150 830,130 780,150 720,150 690,170 690,210 660,240 620,250 600,290 600,330 580,370 550,400 520,420 490,450 470,480 440,520 420,550 400,580 250,580 230,560 235,600 260,640 290,660 330,690 380,690 400,670 420,700 430,730 470,730 500,700 490,660 520,640 560,620 570,580 600,565 650,545 690,570 740,590 760,620 800,620 840,610 860,590 880,560 880,520 870,470 880,430 920,410 960,390 1050,385 1090,400 1120,440 1150,460 1170,430 1250,430 1270,390 1330,385 1340,420 1400,430 1450,410 1490,370 1560,360 1580,350 1700,350 1720,380 1740,400 1800,400 1850,410 1900,420 1950,430 1960,390 2000,380 2000,745 1940,760 1900,780 1850,800 1800,830 1780,870 1760,920 1755,970 1740,1010 1700,1030 1660,1030 1620,1010 1560,1020 1520,1000 1480,990 1450,960 1420,920 1430,890 1450,870 1440,840 1400,850 1350,860 1300,870 1270,880 1220,940 1200,960 1250,960 1280,1000 1300,1030 1310,1070 1300,1100 1300,1150 1290,1200 1280,1230 1230,1240 1200,1230 1120,1250 1080,1260 1040,1270 1020,1300 1050,1330 1070,1340 1100,1300 1160,1290 1200,1280 1240,1270 1260,1300 1220,1320 1180,1340 1140,1330 1110,1340 1090,1370 1075,1390 1060,1360 1040,1330 1020,1290 1000,1250 980,1230 940,1240 900,1250 850,1270 800,1290 750,1300 700,1320 650,1330 600,1350 560,1380 520,1390 510,1420 0,1420"/>
</clipPath></defs>
<g clip-path="url(#d3c)"><rect width="2008" height="1581" fill="#433e85"/>
<g filter="url(#bf)"><ellipse cx="150" cy="1300" rx="300" ry="200" fill="#42205f"/><ellipse cx="900" cy="1150" rx="350" ry="90" fill="#42205f"/><ellipse cx="250" cy="200" rx="150" ry="200" fill="#432a70"/>
<polygon fill="#2c738e" points="480,0 760,0 720,150 660,240 560,380 440,520 300,560 180,560 140,640 200,700 400,780 520,760 640,640 760,640 860,700 900,800 800,980 640,1000 560,1100 520,1260 420,1260 400,1060 420,900 300,800 100,700 60,560 200,480 360,400 440,260"/>
<ellipse cx="740" cy="820" rx="70" ry="130" fill="#4ac16d"/><ellipse cx="480" cy="1010" rx="60" ry="70" fill="#35b779"/><ellipse cx="460" cy="1150" rx="50" ry="60" fill="#35b779"/><ellipse cx="250" cy="650" rx="50" ry="40" fill="#35b779"/>
<polygon fill="#26828e" points="1340,400 1490,370 1580,400 1560,500 1460,540 1350,520 1250,480"/><ellipse cx="1450" cy="440" rx="40" ry="50" fill="#4ac16d"/><ellipse cx="1740" cy="960" rx="30" ry="50" fill="#35b779"/><ellipse cx="1250" cy="1020" rx="60" ry="80" fill="#2c738e"/><ellipse cx="1140" cy="1310" rx="100" ry="40" fill="#2c738e"/>
</g></g>
<g fill="#fff"><polygon points="0,420 50,420 60,370 100,370 140,440 90,440 90,470 0,470"/><polygon points="0,960 40,940 70,1030 50,1050 0,1060"/><rect x="135" y="715" width="80" height="30"/>
<polygon points="850,860 880,850 940,820 1000,800 1040,790 1090,770 1110,800 1110,830 1060,830 1040,850 1050,900 1070,930 1040,940 1000,940 960,960 940,1000 900,990 880,950 860,960 850,990 800,1000 780,990 800,960 830,940 850,900"/>
<polygon points="1110,1040 1140,1000 1180,980 1200,1010 1180,1030 1200,1060 1250,1060 1250,1110 1200,1110 1170,1090 1140,1080"/>
<polygon points="1240,740 1300,720 1380,715 1430,710 1480,680 1520,650 1600,640 1620,680 1640,720 1660,730 1690,680 1720,640 1760,600 1780,520 1800,500 1820,540 1840,600 1830,640 1800,660 1760,700 1740,740 1660,750 1640,740 1580,720 1500,720 1440,720 1400,740 1330,740 1290,750 1260,760"/>
<polygon points="1170,810 1200,790 1220,800 1200,840 1170,850"/><polygon points="840,740 860,720 960,730 980,760 940,770 900,750 860,760"/><rect x="590" y="150" width="10" height="25"/><polygon points="480,880 500,870 505,910 485,910"/><rect x="1830" y="440" width="20" height="20"/><polygon points="700,900 760,880 760,900 720,940"/></g>
<linearGradient id="d3g" x1="0" x2="1"><stop offset="0" stop-color="#35b779"/><stop offset=".35" stop-color="#d8e219"/><stop offset="1" stop-color="#fde725"/></linearGradient>
<polygon fill="url(#d3g)" points="720,60 800,22 830,22 850,50 900,90 915,120 915,150 860,150 830,130 790,130 740,140"/><polygon fill="#fde725" points="1910,22 2000,22 2000,70 1950,50"/>
<use href="#e3r" style="stroke-width:8" class="ro"  x="-4"/>
<use href="#e3p" style="stroke-width:9" class="oo"  x="-4"/>
<g fill="#f9a11b"><polygon points="1024,1062 1071,1075 1071,1085 1024,1072"/><rect x="1108" y="1154" width="12" height="12"/></g>
<circle cx="548" cy="1060" r="50" fill="#f9a11b"/><circle cx="636" cy="885" r="48" fill="#ec1c24"/>
</g></g>
<rect class="fr" x="1099.9" y="781.3" width="294.0" height="206.6"/>
<g clip-path="url(#cpD4)"><g transform="translate(1098,1027) scale(0.149402)"><rect width="2008" height="1581" fill="#fff"/>
<defs><clipPath id="d4c">
<polygon points="0,0 470,0 460,60 430,100 420,140 400,180 380,220 340,250 300,270 260,290 240,330 240,380 300,390 340,350 380,300 400,260 420,220 460,190 520,180 560,170 590,120 590,80 620,40 720,35 740,0 760,0 720,60 700,90 680,120 660,160 650,200 640,240 610,260 600,300 590,340 570,380 540,410 520,440 490,480 470,520 440,560 420,590 380,620 340,640 330,680 380,680 420,670 430,710 460,720 490,700 480,660 520,640 570,600 600,575 650,560 700,575 740,590 780,620 830,640 850,610 860,570 890,550 920,520 960,500 1000,480 990,450 960,430 960,400 1000,385 1060,400 1100,430 1130,460 1160,430 1250,430 1270,390 1330,385 1380,420 1440,410 1470,380 1480,350 1560,355 1580,345 1660,330 1700,350 1800,350 1840,355 1880,330 1900,300 2000,288 2000,745 1940,760 1900,770 1860,790 1820,820 1780,860 1760,900 1750,940 1755,970 1740,1010 1700,1030 1660,1030 1620,1010 1580,1020 1540,1000 1500,990 1470,970 1440,930 1440,890 1440,850 1400,850 1350,860 1300,860 1265,850 1260,900 1270,950 1280,1000 1300,1040 1320,1080 1330,1130 1330,1200 1335,1280 1330,1320 1300,1310 1280,1290 1250,1300 1200,1320 1160,1320 1110,1340 1080,1360 1060,1360 1050,1320 1030,1290 1010,1250 990,1220 960,1210 930,1240 900,1240 870,1220 850,1260 820,1300 780,1300 740,1300 700,1310 660,1320 620,1340 580,1370 555,1420 0,1420"/>
</clipPath></defs>
<g clip-path="url(#d4c)"><rect width="2008" height="1581" fill="#433e85"/>
<g filter="url(#bf)"><ellipse cx="100" cy="1380" rx="260" ry="160" fill="#42205f"/><ellipse cx="950" cy="930" rx="170" ry="80" fill="#42205f"/><ellipse cx="200" cy="250" rx="120" ry="200" fill="#432a70"/>
<polygon fill="#2c738e" points="240,380 600,300 650,200 740,20 600,30 560,170 420,260 300,400"/>
<polygon fill="#27808e" points="100,620 300,440 500,480 600,575 780,620 960,700 1000,800 800,900 700,960 640,1100 500,1250 420,1320 300,1250 250,1100 200,950 130,800"/>
<ellipse cx="660" cy="710" rx="60" ry="60" fill="#4ac16d"/><ellipse cx="790" cy="800" rx="110" ry="90" fill="#4ac16d"/><ellipse cx="440" cy="940" rx="70" ry="60" fill="#4ac16d"/><ellipse cx="430" cy="1090" rx="40" ry="60" fill="#4ac16d"/><ellipse cx="300" cy="420" rx="50" ry="40" fill="#35b779"/><ellipse cx="60" cy="100" rx="70" ry="50" fill="#26828e"/>
<polygon fill="#26828e" points="1250,420 1470,380 1580,400 1560,520 1440,560 1300,540 1200,480"/><ellipse cx="1450" cy="450" rx="50" ry="50" fill="#4ac16d"/><ellipse cx="1930" cy="330" rx="80" ry="60" fill="#26828e"/><ellipse cx="1730" cy="950" rx="40" ry="70" fill="#26828e"/><ellipse cx="1100" cy="1320" rx="70" ry="40" fill="#26828e"/><ellipse cx="1320" cy="1300" rx="20" ry="30" fill="#bddf26"/>
</g></g>
<g fill="#fff"><polygon points="100,190 130,140 170,90 180,120 170,170 140,190 110,210"/><polygon points="130,480 160,420 200,380 220,400 200,440 160,490 120,530 100,530"/><polygon points="20,300 70,290 75,330 50,360 30,350"/><polygon points="160,760 180,720 195,730 185,760 165,770"/>
<polygon points="1070,965 1100,945 1150,950 1170,980 1170,1010 1140,1000 1110,980 1075,985"/><polygon points="1170,1065 1280,1040 1285,1080 1250,1110 1185,1110"/><rect x="1190" y="1175" width="35" height="20"/><rect x="1265" y="1215" width="45" height="20"/>
<polygon points="1760,690 1790,650 1840,610 1870,630 1850,660 1810,680 1780,720 1760,730"/><polygon points="1640,840 1660,810 1690,790 1700,800 1670,840 1650,860"/><polygon points="1480,910 1520,900 1530,880 1580,860 1620,870 1600,890 1550,905 1520,920 1490,940"/>
<rect x="1220" y="600" width="50" height="15"/><rect x="1220" y="640" width="30" height="15"/><rect x="1910" y="440" width="30" height="40"/><polygon points="1890,310 1930,320 1940,370 1900,350"/><rect x="1170" y="830" width="25" height="20"/><rect x="40" y="190" width="20" height="15"/><rect x="330" y="95" width="20" height="15"/></g>
<polygon fill="#fde725" points="690,130 720,80 740,40 760,22 820,22 850,75 820,100 800,130 740,140 700,150"/><polygon fill="#fde725" points="1925,22 2000,22 2000,55 1940,50"/><rect x="660" y="205" width="18" height="18" fill="#35b779"/>
<use href="#e4r" style="stroke-width:8" class="ro"  x="-4"/><rect x="441" y="498" width="17" height="22" fill="#ec1c24"/>
<use href="#e4p" style="stroke-width:9" class="oo"  x="-4"/>
<g fill="#f9a11b"><rect x="995" y="1046" width="12" height="12"/><rect x="1015" y="1046" width="12" height="12"/><rect x="1058" y="1031" width="12" height="12"/><polygon points="466,1080 516,1075 566,1100 516,1115 476,1150 461,1120"/><polygon points="616,1010 686,1000 716,1050 656,1045"/></g>
<circle cx="512" cy="1000" r="50" fill="#f9a11b"/><circle cx="608" cy="830" r="48" fill="#ec1c24"/>
</g></g>
<rect class="fr" x="1099.9" y="1030.3" width="294.0" height="206.6"/>
<g clip-path="url(#cpD5)"><g transform="translate(1098,1276) scale(0.149402)"><rect width="2008" height="1581" fill="#fff"/>
<defs><clipPath id="d5c">
<polygon points="0,0 820,0 850,60 860,90 830,120 760,130 720,150 690,180 660,210 620,240 590,270 580,320 580,370 550,400 530,440 500,470 470,500 440,530 420,570 380,600 340,630 300,650 280,670 310,690 380,695 400,720 430,710 460,720 480,690 490,660 520,640 560,610 570,580 620,570 650,555 690,560 720,580 720,620 760,600 800,610 830,630 850,600 870,560 880,500 880,460 900,430 940,410 960,400 1080,400 1110,430 1130,460 1150,430 1250,430 1260,400 1280,385 1330,390 1380,420 1440,410 1460,380 1470,350 1500,355 1540,370 1560,350 1640,330 1660,335 1700,345 1760,350 1810,360 1830,330 1860,310 1900,300 2000,288 2000,745 1940,760 1900,775 1860,790 1820,815 1790,850 1770,890 1760,930 1760,975 1740,1005 1700,1035 1660,1035 1620,1015 1580,1020 1540,1010 1520,980 1500,950 1470,930 1450,900 1450,860 1400,850 1350,845 1300,850 1270,830 1250,850 1260,900 1270,950 1290,1000 1310,1040 1330,1080 1330,1200 1335,1290 1330,1320 1300,1340 1280,1310 1240,1310 1200,1340 1160,1320 1110,1340 1090,1370 1075,1385 1060,1360 1040,1330 1020,1300 1000,1250 980,1220 950,1210 920,1240 890,1230 870,1240 850,1270 820,1300 780,1290 740,1300 700,1310 660,1320 620,1340 580,1370 555,1420 0,1420 0,1230 40,1200 50,1150 80,1120 100,1080 150,1060 180,1030 220,1000 230,960 230,900 200,920 180,900 150,890 30,890 0,900"/>
</clipPath></defs>
<g clip-path="url(#d5c)"><rect width="2008" height="1581" fill="#433e85"/>
<g filter="url(#bf)"><ellipse cx="100" cy="1400" rx="300" ry="160" fill="#42205f"/><ellipse cx="900" cy="1000" rx="260" ry="130" fill="#432568"/><ellipse cx="120" cy="400" rx="150" ry="300" fill="#432a70"/>
<polygon fill="#2a7a8e" points="300,120 640,60 620,240 560,400 440,530 280,670 310,690 480,700 560,620 720,580 860,620 900,700 720,780 760,900 640,1000 560,1100 480,1200 300,1260 260,1100 240,900 180,800 100,640 160,460 260,300"/>
<ellipse cx="640" cy="610" rx="90" ry="40" fill="#4ac16d"/><ellipse cx="745" cy="745" rx="50" ry="30" fill="#5ec962"/><ellipse cx="740" cy="845" rx="50" ry="40" fill="#4ac16d"/><ellipse cx="950" cy="750" rx="50" ry="40" fill="#6ece58"/><ellipse cx="350" cy="960" rx="60" ry="110" fill="#23898e"/><ellipse cx="520" cy="700" rx="50" ry="40" fill="#35b779"/>
<polygon fill="#26828e" points="1250,420 1460,380 1600,400 1580,520 1460,560 1300,540 1200,480"/><ellipse cx="1460" cy="480" rx="50" ry="50" fill="#5ec962"/><ellipse cx="1930" cy="330" rx="90" ry="60" fill="#26828e"/><ellipse cx="1740" cy="970" rx="40" ry="60" fill="#26828e"/><ellipse cx="1290" cy="1280" rx="50" ry="70" fill="#26828e"/><ellipse cx="1100" cy="1340" rx="60" ry="40" fill="#2c738e"/><ellipse cx="1560" cy="980" rx="80" ry="50" fill="#2c738e"/>
</g></g>
<g fill="#fff"><polygon points="0,250 90,245 90,230 95,245 125,250 125,265 70,270 50,285 0,285"/><polygon points="160,750 180,730 195,735 185,760 165,770"/>
<polygon points="730,800 760,770 800,720 830,700 860,700 890,720 890,790 870,830 800,830 770,800"/>
<polygon points="1070,960 1100,945 1130,960 1165,960 1165,980 1120,975 1075,980"/><polygon points="1175,1065 1240,1060 1250,1090 1250,1115 1230,1110 1200,1095 1180,1085"/><rect x="1265" y="1215" width="45" height="17"/>
<rect x="1015" y="845" width="25" height="20"/><rect x="1130" y="845" width="20" height="15"/><rect x="1170" y="825" width="25" height="20"/><rect x="1550" y="770" width="20" height="20"/><rect x="1460" y="790" width="10" height="15"/><rect x="510" y="385" width="15" height="15"/><rect x="590" y="150" width="10" height="20"/></g>
<linearGradient id="d5g" x1="0" x2="1"><stop offset="0" stop-color="#35b779"/><stop offset=".3" stop-color="#d8e219"/><stop offset="1" stop-color="#fde725"/></linearGradient>
<polygon fill="url(#d5g)" points="620,150 660,90 700,60 760,40 800,22 820,22 850,60 860,90 830,120 760,130 720,150 690,180 660,210 620,240"/><polygon fill="#fde725" points="1920,22 2000,22 2000,75 1960,45"/>
<use href="#e5r" style="stroke-width:8" class="ro"  x="-4"/><g fill="#ec1c24"><rect x="421" y="553" width="15" height="22"/><rect x="811" y="672" width="15" height="40" rx="6"/></g>
<use href="#e5p" style="stroke-width:9" class="oo"  x="-4"/>
<g fill="#f9a11b"><polygon points="391,1000 436,1010 466,1040 536,1040 496,1070 426,1120 396,1100"/><polygon points="536,930 571,905 556,940 596,975 646,975 706,1010 616,1020 576,1000"/><rect x="656" y="930" width="22" height="10"/><rect x="994" y="1026" width="20" height="14"/></g>
<circle cx="465" cy="950" r="55" fill="#f9a11b"/><circle cx="668" cy="757" r="48" fill="#ec1c24"/>
</g></g>
<rect class="fr" x="1099.9" y="1279.3" width="294.0" height="206.6"/>
<g clip-path="url(#cpE0)"><g transform="translate(1403,31) scale(0.149402)"><rect width="2008" height="1581" fill="#411950"/><use href="#landE"/>
<defs><g id="e0r"><path d="M385 885H440V905H460V925H520V960H590V940H605V965H625V1000H655V1040H625V1060H600V1085H580V1120H560V1160H545V1180H520V1160H505V1130H480V1110H465V1140H440V1185H405V1155H425V1125H445V1090H460V1060H445V1025H395V1000H445V960H425V940H395V925H375V905H385Z"/>
<path d="M680 1040H700V1065H715V1100H695V1075H680Z"/><rect x="958" y="1215" width="12" height="22"/></g></defs>
<use href="#e0r" filter="url(#tl)"/><use href="#e0r" fill="none" stroke="#ee3a22" stroke-width="11"/>
<circle cx="515" cy="1040" r="48" fill="#f9a11b"/><circle cx="512" cy="1030" r="50" fill="#ec1c24"/>
</g></g>
<rect class="fr" x="1405.3" y="34.3" width="294.0" height="206.6"/>
<g clip-path="url(#cpE1)"><g transform="translate(1403,280) scale(0.149402)"><rect width="2008" height="1581" fill="#411950"/><use href="#landE"/>
<polygon fill="#33558c" points="430,890 460,920 500,915 560,905 620,930 690,940 740,975 735,1010 780,1040 750,1055 700,1045 660,1060 620,1090 580,1130 560,1170 530,1200 515,1230 495,1180 480,1130 450,1125 470,1090 440,1060 450,1020 440,980 400,950 390,920"/>
<polygon fill="#2b9a8a" points="470,930 560,915 640,945 700,960 720,1000 660,1040 600,1060 540,1060 480,1040 460,990"/>
<g fill="#f9a11b"><polygon points="455,1000 500,990 520,1010 480,1040 450,1040"/><polygon points="460,1110 500,1075 530,1055 520,1085 490,1120"/><polygon points="530,1190 560,1150 605,1115 580,1160 545,1195"/><polygon points="700,1020 740,1010 780,1040 745,1055 705,1045"/><polygon points="480,925 560,905 600,930 540,945"/><polygon points="640,950 700,940 735,975 690,985"/></g>
<path d="M965 968L1050 1058" fill="none" stroke="#f9a11b" stroke-width="12" stroke-dasharray="10 16"/>
<defs><g id="e1r"><path d="M560 635H590V615H610V635H640V655H660V675H720V750H700V790H690V890H650V910H630V935H575V870H590V800H575V700H590V655H560Z"/>
<path d="M200 790H225V812H200Z"/><path d="M255 770H330V830H265V810H280V790H255Z"/><path d="M210 830H250V855H210Z"/><path d="M380 810H410V830H380Z"/><path d="M425 770H455V790H485V870H465V890H440V850H455V810H425Z"/><path d="M500 757H525V775H510Z"/><path d="M600 860L615 838L630 860Z"/>
<path d="M325 965H375L400 945H415V985L395 1005H325Z"/><path d="M405 1040H440V1065H410V1085H415V1105H385V1065H405Z"/><path d="M445 945H500V965H445Z"/><path d="M690 965H735V985H690Z"/><path d="M500 1020H530V1040H500Z"/><path d="M600 935H640V960H600Z"/></g></defs><use href="#e1r" style="stroke-width:9" class="ro" />
<circle cx="540" cy="848" r="48" fill="#ec1c24"/><circle cx="580" cy="992" r="55" fill="#f9a11b"/>
</g></g>
<rect class="fr" x="1405.3" y="283.3" width="294.0" height="206.6"/>
<g clip-path="url(#cpE2)"><g transform="translate(1403,529) scale(0.149402)"><rect width="2008" height="1581" fill="#411950"/><use href="#landE"/>
<polygon filter="url(#hm)" points="430,925 480,930 540,945 580,930 620,960 700,975 740,1020 780,1040 720,1045 680,1070 620,1080 560,1060 520,1010 470,990"/>
<polygon fill="#35508a" points="520,1130 560,1120 560,1200 530,1235 510,1200"/>
<g fill="#f9a11b"><polygon points="370,925 390,920 430,970 460,1010 440,1040 410,985 380,950"/><polygon points="490,1090 510,1100 470,1150 450,1150"/><polygon points="525,1100 580,1095 575,1150 550,1225 520,1215 505,1190 525,1150"/><rect x="1093" y="1045" width="14" height="18"/></g>
<path d="M570 1020H600V1050H625V1062L600 1085H570Z" style="stroke-width:8" class="oo" />
<defs><g id="e2r"><path d="M320 712H385V735H365V770H385V790H405V850H340V830H310V790H330V755H310V735H320Z"/><path d="M438 735H462V755H452V775H438Z"/><path d="M775 790H800V812H775Z"/>
<path d="M480 870L495 890V905H550V925H495V940H440"/><path d="M420 960H445V985H470V1010H445V1030H425Z"/><path d="M490 985H525V1000H490Z"/><path d="M380 850H400V870H380Z"/></g></defs><use href="#e2r" style="stroke-width:9" class="ro" />
<g fill="#ec1c24"><rect x="268" y="672" width="22" height="23"/><rect x="732" y="770" width="16" height="25"/></g>
<circle cx="520" cy="1048" r="55" fill="#f9a11b"/><circle cx="432" cy="868" r="50" fill="#ec1c24"/>
</g></g>
<rect class="fr" x="1405.3" y="532.3" width="294.0" height="206.6"/>
<g clip-path="url(#cpE3)"><g transform="translate(1403,778) scale(0.149402)"><rect width="2008" height="1581" fill="#411950"/><use href="#landE"/>
<g id="e3p"><polygon points="410,960 430,945 480,960 510,945 540,960 560,990 540,1010 480,1005 440,995 415,985"/>
<polygon points="600,1040 650,1030 690,1050 740,1080 765,1080 740,1095 690,1095 640,1100 610,1110"/>
<polygon points="500,1110 560,1110 600,1150 590,1175 560,1190 530,1225 500,1210 480,1195 490,1150"/></g>
<use href="#e3p" filter="url(#hm)"/><use href="#e3p" style="stroke-width:12" class="oo" />
<g fill="#f9a11b"><polygon points="1028,1062 1075,1075 1075,1085 1028,1072"/><rect x="1112" y="1154" width="12" height="12"/><rect x="690" y="1042" width="26" height="9"/><polygon points="690,1060 740,1075 765,1080 740,1095 700,1090"/></g>
<defs><g id="e3r"><path d="M805 690H830V750H810V770H830V790H810V830H790V850H775V870H800V905H755V890H720V910H740V960H720V1000H700V975L680 960V940H650V830H665V790H680V770H655V750H700V715H760V730H790V715H805Z"/>
<path d="M228 632H265V650H275V672H228Z"/><path d="M340 692H378V715H340Z"/><path d="M375 730H410V752H375Z"/><path d="M520 615H548V635H560V655H520Z"/><path d="M695 595H722V615H735V635H695Z"/><path d="M865 730H900V752H865Z"/>
<path d="M450 905H495V925L505 905H520V925H550V965H565V990H580V1005H520V1020H440V1000H470V965H450Z"/>
<path d="M480 1020H500V1110H480V1130H500V1190H465V1165H445V1150H420V1125H440V1110H480Z"/></g></defs><use href="#e3r" style="stroke-width:9" class="ro" />
<circle cx="550" cy="1060" r="50" fill="#f9a11b"/><circle cx="640" cy="885" r="48" fill="#ec1c24"/>
</g></g>
<rect class="fr" x="1405.3" y="781.3" width="294.0" height="206.6"/>
<g clip-path="url(#cpE4)"><g transform="translate(1403,1027) scale(0.149402)"><rect width="2008" height="1581" fill="#411950"/><use href="#landE"/>
<g id="e4p"><polygon points="365,890 400,880 440,890 490,885 520,920 530,960 560,985 600,970 635,965 610,1000 640,1020 690,1000 710,995 690,1030 725,1050 680,1055 640,1040 600,1060 560,1070 520,1075 585,1090 570,1110 530,1115 500,1140 470,1180 455,1150 440,1120 430,1080 440,1040 470,1010 450,975 420,950 385,930"/></g>
<use href="#e4p" filter="url(#hm)"/><use href="#e4p" style="stroke-width:18" class="oo" />
<g fill="#f9a11b"><rect x="999" y="1046" width="12" height="12"/><rect x="1019" y="1046" width="12" height="12"/><rect x="1062" y="1031" width="12" height="12"/><polygon points="470,1080 520,1075 570,1100 520,1115 480,1150 465,1120"/><polygon points="620,1010 690,1000 720,1050 660,1045"/></g>
<defs><g id="e4r"><path d="M800 670H820V690H840V710H860V730H920V750H940V790H905V770H860V790H830V810H800V830H790V850H770V870H750V890H735V910H700V925H680V885H695V850H680V810H665V790H690L710 760V740H740V710H780V690H800Z"/>
<path d="M640 635H665V690H690V710H720V740H700V745H575V715H615V690L640 660Z"/>
<path d="M520 610H550V630H590V655H540V670H530V690H490V655H520Z"/>
<path d="M395 710H440V725H470V710H500V740H480V755H410V735H395Z"/>
<path d="M262 498H290V520H262Z"/><path d="M395 540H430L440 560V580L420 565H395Z"/><path d="M205 630H235V655L225 675H200L205 650Z"/><path d="M612 595H645V615H612Z"/><path d="M650 575H685V598H650Z"/><path d="M560 615H590V630H560Z"/>
<path d="M440 850H470V870H495V905H480V925H445V905H420V885H440Z"/><path d="M365 925V985H400V965H420"/>
<path d="M410 1025H430V1045H460V1160H420V1130H400V1080H380V1060H410Z"/></g></defs><use href="#e4r" style="stroke-width:9" class="ro" />
<rect x="445" y="498" width="17" height="22" fill="#ec1c24"/>
<circle cx="515" cy="1000" r="50" fill="#f9a11b"/><circle cx="612" cy="830" r="48" fill="#ec1c24"/>
</g></g>
<rect class="fr" x="1405.3" y="1030.3" width="294.0" height="206.6"/>
<g clip-path="url(#cpE5)"><g transform="translate(1403,1276) scale(0.149402)"><rect width="2008" height="1581" fill="#411950"/><use href="#landE"/>
<g id="e5p"><polygon points="305,850 340,830 370,815 430,810 470,840 500,875 520,910 545,925 575,905 560,940 600,975 650,975 680,1000 710,1010 670,1020 620,1020 570,1010 540,1040 545,1050 500,1070 470,1095 430,1120 415,1130 400,1100 395,1060 375,1040 395,1000 400,950 405,905 380,880 330,875"/></g>
<use href="#e5p" filter="url(#hm)"/><use href="#e5p" style="stroke-width:18" class="oo" />
<g fill="#f9a11b"><polygon points="395,1000 440,1010 470,1040 540,1040 500,1070 430,1120 400,1100"/><polygon points="540,930 575,905 560,940 600,975 650,975 710,1010 620,1020 580,1000"/><polygon points="305,850 370,815 400,860 340,875"/><rect x="660" y="930" width="22" height="10"/><rect x="998" y="1026" width="20" height="14"/></g>
<defs><g id="e5r"><path d="M585 580H655V555H685V575H715V635H705V670H680V635H620V620H600V650H575V610H565V590Z"/>
<path d="M490 650H520V630L545 615L555 630L540 650V675H520V690H490Z"/>
<path d="M385 710H405V730H420V710H435V730H460L470 710H495V730H470V750H450V770H435V750H400V730H385Z"/>
<path d="M645 690H675V710H800V735H780V752H760V770H720"/>
<path d="M695 810H725V805H790V820H800V850H760V865H740V885H720V905H705V885H680V845H695Z"/>
<path d="M908 710H960V745H1045V770H1000V785H975V770H965V790H908V760H895V735H908Z"/>
<path d="M345 845H368V868H345Z"/><path d="M335 885H375V905H335Z"/><path d="M340 925H375V945H385V965H350V975H320V945H340Z"/><path d="M350 980H395V1040H380V1020H355Z"/><path d="M665 575L690 590L680 615H655Z"/></g></defs><use href="#e5r" style="stroke-width:9" class="ro" />
<g fill="#ec1c24"><rect x="425" y="553" width="15" height="22"/><rect x="815" y="672" width="15" height="40" rx="6"/></g>
<circle cx="468" cy="950" r="55" fill="#f9a11b"/><circle cx="672" cy="757" r="48" fill="#ec1c24"/>
</g></g>
<rect class="fr" x="1405.3" y="1279.3" width="294.0" height="206.6"/>
<g clip-path="url(#cpF0)"></g>
<rect class="fr" x="1711.0" y="34.3" width="294.0" height="206.6"/>
<g clip-path="url(#cpF1)"></g>
<rect class="fr" x="1711.0" y="283.3" width="294.0" height="206.6"/>
<g clip-path="url(#cpF2)"></g>
<rect class="fr" x="1711.0" y="532.3" width="294.0" height="206.6"/>
<g clip-path="url(#cpF3)"><g transform="translate(1708,778) scale(0.149402)"><rect width="2008" height="1581" fill="#411950"/><use href="#landE" x="6"/>
<g transform="translate(5,0)"><use href="#e3r" filter="url(#bl)"/><use href="#e3r" style="stroke-width:13;stroke-linejoin:miter" class="oo"  />
<circle cx="640" cy="885" r="48" fill="#ec1c24"/></g>
</g></g>
<rect class="fr" x="1711.0" y="781.3" width="294.0" height="206.6"/>
<g clip-path="url(#cpF4)"><g transform="translate(1708,1027) scale(0.149402)"><rect width="2008" height="1581" fill="#411950"/><use href="#landE" x="6"/>
<g id="f4p"><polygon points="650,680 700,665 740,680 770,645 800,690 820,720 810,760 790,790 770,830 750,870 720,900 700,930 680,945 660,915 640,890 660,860 670,820 650,790 660,760 630,740 640,710"/>
<polygon points="400,860 440,840 480,845 520,870 545,910 520,945 490,960 490,1000 470,1040 475,1080 450,1120 440,1150 420,1130 395,1080 420,1030 440,990 430,960 400,945 420,900"/></g>
<use href="#f4p" filter="url(#bl)"/><use href="#f4p" style="stroke-width:18" class="oo" />
<g fill="#f9a11b"><polygon points="235,600 240,560 265,525 275,540 260,570 258,605"/><polygon points="325,690 345,700 375,690 385,700 350,710 325,705"/><polygon points="490,690 520,660 545,630 555,640 530,670 500,700"/><polygon points="655,555 680,555 700,580 715,600 690,600 670,580 655,575"/><rect x="855" y="680" width="30" height="15"/><rect x="300" y="590" width="10" height="10"/><rect x="318" y="612" width="10" height="10"/></g>
<use href="#e4r" style="stroke-width:9" class="ro"  x="5"/>
<rect x="450" y="498" width="17" height="22" fill="#ec1c24"/>
<circle cx="622" cy="832" r="50" fill="#f9a11b"/><circle cx="612" cy="830" r="48" fill="#ec1c24"/>
</g></g>
<rect class="fr" x="1711.0" y="1030.3" width="294.0" height="206.6"/>
<g clip-path="url(#cpF5)"><g transform="translate(1708,1276) scale(0.149402)"><rect width="2008" height="1581" fill="#411950"/><use href="#landE" x="6"/>
<g id="f5p"><polygon points="580,575 620,560 650,575 690,570 720,600 715,640 740,680 760,720 740,760 760,780 720,810 710,860 680,885 640,880 600,860 570,830 545,800 535,760 555,720 590,700 575,660 585,620"/>
<polygon points="335,800 370,780 420,785 460,800 490,830 515,860 500,890 470,910 450,950 440,1000 445,1030 420,1045 400,1040 370,1020 340,1025 345,990 380,960 390,920 360,900 350,860 335,830"/></g>
<use href="#f5p" filter="url(#ob)"/><use href="#f5p" style="stroke-width:14" class="oo" />
<g filter="url(#bl)"><polygon points="600,650 650,640 700,670 720,710 690,720 640,700 610,690"/><polygon points="620,810 680,800 690,850 650,855"/><polygon points="370,810 420,805 460,840 450,880 410,890 400,850 375,840"/><polygon points="370,990 400,985 410,1010 380,1015"/><polygon points="610,590 660,590 680,620 640,630"/></g>
<g fill="#f9a11b"><polygon points="470,760 500,715 540,660 550,670 515,725 485,770"/><polygon points="220,520 240,450 265,410 268,440 250,490 230,525"/><polygon points="335,545 350,540 360,552 340,562"/><rect x="306" y="506" width="10" height="10"/><polygon points="745,615 780,640 790,650 770,650 745,630"/><rect x="403" y="1060" width="12" height="12"/><rect x="478" y="775" width="12" height="12"/></g>
<use href="#e5r" style="stroke-width:9" class="ro"  x="5"/>
<g fill="#ec1c24"><rect x="430" y="553" width="15" height="22"/><rect x="820" y="672" width="15" height="40" rx="6"/></g>
<circle cx="585" cy="770" r="52" fill="#f9a11b"/><circle cx="678" cy="757" r="48" fill="#ec1c24"/>
</g></g>
<rect class="fr" x="1711.0" y="1279.3" width="294.0" height="206.6"/>
<line class="tk" x1="86.5" y1="240.89999999999998" x2="86.5" y2="245.39999999999998"/><text class="t" x="86.5" y="264.4" text-anchor="middle">−6</text><line class="tk" x1="160.0" y1="240.89999999999998" x2="160.0" y2="245.39999999999998"/><text class="t" x="160.0" y="264.4" text-anchor="middle">−5</text><line class="tk" x1="233.5" y1="240.89999999999998" x2="233.5" y2="245.39999999999998"/><text class="t" x="233.5" y="264.4" text-anchor="middle">−4</text><line class="tk" x1="307.0" y1="240.89999999999998" x2="307.0" y2="245.39999999999998"/><text class="t" x="307.0" y="264.4" text-anchor="middle">−3</text><line class="tk" x1="380.5" y1="240.89999999999998" x2="380.5" y2="245.39999999999998"/><text class="t" x="380.5" y="264.4" text-anchor="middle">−2</text><line class="tk" x1="82.0" y1="240.9" x2="86.5" y2="240.9"/><text class="t" x="78.9" y="248.7" text-anchor="end">49.0</text><line class="tk" x1="82.0" y1="172.0" x2="86.5" y2="172.0"/><text class="t" x="78.9" y="179.8" text-anchor="end">49.5</text><line class="tk" x1="82.0" y1="103.2" x2="86.5" y2="103.2"/><text class="t" x="78.9" y="111.0" text-anchor="end">50.0</text><line class="tk" x1="82.0" y1="34.3" x2="86.5" y2="34.3"/><text class="t" x="78.9" y="42.1" text-anchor="end">50.5</text>
<line class="tk" x1="86.5" y1="489.9" x2="86.5" y2="494.4"/><text class="t" x="86.5" y="513.4" text-anchor="middle">−6</text><line class="tk" x1="160.0" y1="489.9" x2="160.0" y2="494.4"/><text class="t" x="160.0" y="513.4" text-anchor="middle">−5</text><line class="tk" x1="233.5" y1="489.9" x2="233.5" y2="494.4"/><text class="t" x="233.5" y="513.4" text-anchor="middle">−4</text><line class="tk" x1="307.0" y1="489.9" x2="307.0" y2="494.4"/><text class="t" x="307.0" y="513.4" text-anchor="middle">−3</text><line class="tk" x1="380.5" y1="489.9" x2="380.5" y2="494.4"/><text class="t" x="380.5" y="513.4" text-anchor="middle">−2</text><line class="tk" x1="82.0" y1="489.9" x2="86.5" y2="489.9"/><text class="t" x="78.9" y="497.7" text-anchor="end">49.0</text><line class="tk" x1="82.0" y1="421.0" x2="86.5" y2="421.0"/><text class="t" x="78.9" y="428.8" text-anchor="end">49.5</text><line class="tk" x1="82.0" y1="352.2" x2="86.5" y2="352.2"/><text class="t" x="78.9" y="360.0" text-anchor="end">50.0</text><line class="tk" x1="82.0" y1="283.3" x2="86.5" y2="283.3"/><text class="t" x="78.9" y="291.1" text-anchor="end">50.5</text>
<line class="tk" x1="86.5" y1="738.9" x2="86.5" y2="743.4"/><text class="t" x="86.5" y="762.4" text-anchor="middle">−6</text><line class="tk" x1="160.0" y1="738.9" x2="160.0" y2="743.4"/><text class="t" x="160.0" y="762.4" text-anchor="middle">−5</text><line class="tk" x1="233.5" y1="738.9" x2="233.5" y2="743.4"/><text class="t" x="233.5" y="762.4" text-anchor="middle">−4</text><line class="tk" x1="307.0" y1="738.9" x2="307.0" y2="743.4"/><text class="t" x="307.0" y="762.4" text-anchor="middle">−3</text><line class="tk" x1="380.5" y1="738.9" x2="380.5" y2="743.4"/><text class="t" x="380.5" y="762.4" text-anchor="middle">−2</text><line class="tk" x1="82.0" y1="738.9" x2="86.5" y2="738.9"/><text class="t" x="78.9" y="746.7" text-anchor="end">49.0</text><line class="tk" x1="82.0" y1="670.0" x2="86.5" y2="670.0"/><text class="t" x="78.9" y="677.8" text-anchor="end">49.5</text><line class="tk" x1="82.0" y1="601.2" x2="86.5" y2="601.2"/><text class="t" x="78.9" y="609.0" text-anchor="end">50.0</text><line class="tk" x1="82.0" y1="532.3" x2="86.5" y2="532.3"/><text class="t" x="78.9" y="540.1" text-anchor="end">50.5</text>
<line class="tk" x1="86.5" y1="987.9" x2="86.5" y2="992.4"/><text class="t" x="86.5" y="1011.4" text-anchor="middle">−6</text><line class="tk" x1="160.0" y1="987.9" x2="160.0" y2="992.4"/><text class="t" x="160.0" y="1011.4" text-anchor="middle">−5</text><line class="tk" x1="233.5" y1="987.9" x2="233.5" y2="992.4"/><text class="t" x="233.5" y="1011.4" text-anchor="middle">−4</text><line class="tk" x1="307.0" y1="987.9" x2="307.0" y2="992.4"/><text class="t" x="307.0" y="1011.4" text-anchor="middle">−3</text><line class="tk" x1="380.5" y1="987.9" x2="380.5" y2="992.4"/><text class="t" x="380.5" y="1011.4" text-anchor="middle">−2</text><line class="tk" x1="82.0" y1="987.9" x2="86.5" y2="987.9"/><text class="t" x="78.9" y="995.7" text-anchor="end">49.0</text><line class="tk" x1="82.0" y1="919.0" x2="86.5" y2="919.0"/><text class="t" x="78.9" y="926.8" text-anchor="end">49.5</text><line class="tk" x1="82.0" y1="850.2" x2="86.5" y2="850.2"/><text class="t" x="78.9" y="858.0" text-anchor="end">50.0</text><line class="tk" x1="82.0" y1="781.3" x2="86.5" y2="781.3"/><text class="t" x="78.9" y="789.1" text-anchor="end">50.5</text>
<line class="tk" x1="86.5" y1="1236.8999999999999" x2="86.5" y2="1241.3999999999999"/><text class="t" x="86.5" y="1260.4" text-anchor="middle">−6</text><line class="tk" x1="160.0" y1="1236.8999999999999" x2="160.0" y2="1241.3999999999999"/><text class="t" x="160.0" y="1260.4" text-anchor="middle">−5</text><line class="tk" x1="233.5" y1="1236.8999999999999" x2="233.5" y2="1241.3999999999999"/><text class="t" x="233.5" y="1260.4" text-anchor="middle">−4</text><line class="tk" x1="307.0" y1="1236.8999999999999" x2="307.0" y2="1241.3999999999999"/><text class="t" x="307.0" y="1260.4" text-anchor="middle">−3</text><line class="tk" x1="380.5" y1="1236.8999999999999" x2="380.5" y2="1241.3999999999999"/><text class="t" x="380.5" y="1260.4" text-anchor="middle">−2</text><line class="tk" x1="82.0" y1="1236.9" x2="86.5" y2="1236.9"/><text class="t" x="78.9" y="1244.7" text-anchor="end">49.0</text><line class="tk" x1="82.0" y1="1168.0" x2="86.5" y2="1168.0"/><text class="t" x="78.9" y="1175.8" text-anchor="end">49.5</text><line class="tk" x1="82.0" y1="1099.2" x2="86.5" y2="1099.2"/><text class="t" x="78.9" y="1107.0" text-anchor="end">50.0</text><line class="tk" x1="82.0" y1="1030.3" x2="86.5" y2="1030.3"/><text class="t" x="78.9" y="1038.1" text-anchor="end">50.5</text>
<line class="tk" x1="86.5" y1="1485.8999999999999" x2="86.5" y2="1490.3999999999999"/><text class="t" x="86.5" y="1509.4" text-anchor="middle">−6</text><line class="tk" x1="160.0" y1="1485.8999999999999" x2="160.0" y2="1490.3999999999999"/><text class="t" x="160.0" y="1509.4" text-anchor="middle">−5</text><line class="tk" x1="233.5" y1="1485.8999999999999" x2="233.5" y2="1490.3999999999999"/><text class="t" x="233.5" y="1509.4" text-anchor="middle">−4</text><line class="tk" x1="307.0" y1="1485.8999999999999" x2="307.0" y2="1490.3999999999999"/><text class="t" x="307.0" y="1509.4" text-anchor="middle">−3</text><line class="tk" x1="380.5" y1="1485.8999999999999" x2="380.5" y2="1490.3999999999999"/><text class="t" x="380.5" y="1509.4" text-anchor="middle">−2</text><line class="tk" x1="82.0" y1="1485.9" x2="86.5" y2="1485.9"/><text class="t" x="78.9" y="1493.7" text-anchor="end">49.0</text><line class="tk" x1="82.0" y1="1417.0" x2="86.5" y2="1417.0"/><text class="t" x="78.9" y="1424.8" text-anchor="end">49.5</text><line class="tk" x1="82.0" y1="1348.2" x2="86.5" y2="1348.2"/><text class="t" x="78.9" y="1356.0" text-anchor="end">50.0</text><line class="tk" x1="82.0" y1="1279.3" x2="86.5" y2="1279.3"/><text class="t" x="78.9" y="1287.1" text-anchor="end">50.5</text>
<line class="tk" x1="392.0" y1="240.89999999999998" x2="392.0" y2="245.39999999999998"/><text class="t" x="392.0" y="264.4" text-anchor="middle">−6</text><line class="tk" x1="465.5" y1="240.89999999999998" x2="465.5" y2="245.39999999999998"/><text class="t" x="465.5" y="264.4" text-anchor="middle">−5</text><line class="tk" x1="539.0" y1="240.89999999999998" x2="539.0" y2="245.39999999999998"/><text class="t" x="539.0" y="264.4" text-anchor="middle">−4</text><line class="tk" x1="612.5" y1="240.89999999999998" x2="612.5" y2="245.39999999999998"/><text class="t" x="612.5" y="264.4" text-anchor="middle">−3</text><line class="tk" x1="686.0" y1="240.89999999999998" x2="686.0" y2="245.39999999999998"/><text class="t" x="686.0" y="264.4" text-anchor="middle">−2</text>
<line class="tk" x1="392.0" y1="489.9" x2="392.0" y2="494.4"/><text class="t" x="392.0" y="513.4" text-anchor="middle">−6</text><line class="tk" x1="465.5" y1="489.9" x2="465.5" y2="494.4"/><text class="t" x="465.5" y="513.4" text-anchor="middle">−5</text><line class="tk" x1="539.0" y1="489.9" x2="539.0" y2="494.4"/><text class="t" x="539.0" y="513.4" text-anchor="middle">−4</text><line class="tk" x1="612.5" y1="489.9" x2="612.5" y2="494.4"/><text class="t" x="612.5" y="513.4" text-anchor="middle">−3</text><line class="tk" x1="686.0" y1="489.9" x2="686.0" y2="494.4"/><text class="t" x="686.0" y="513.4" text-anchor="middle">−2</text>
<line class="tk" x1="392.0" y1="738.9" x2="392.0" y2="743.4"/><text class="t" x="392.0" y="762.4" text-anchor="middle">−6</text><line class="tk" x1="465.5" y1="738.9" x2="465.5" y2="743.4"/><text class="t" x="465.5" y="762.4" text-anchor="middle">−5</text><line class="tk" x1="539.0" y1="738.9" x2="539.0" y2="743.4"/><text class="t" x="539.0" y="762.4" text-anchor="middle">−4</text><line class="tk" x1="612.5" y1="738.9" x2="612.5" y2="743.4"/><text class="t" x="612.5" y="762.4" text-anchor="middle">−3</text><line class="tk" x1="686.0" y1="738.9" x2="686.0" y2="743.4"/><text class="t" x="686.0" y="762.4" text-anchor="middle">−2</text>
<line class="tk" x1="392.0" y1="987.9" x2="392.0" y2="992.4"/><text class="t" x="392.0" y="1011.4" text-anchor="middle">−6</text><line class="tk" x1="465.5" y1="987.9" x2="465.5" y2="992.4"/><text class="t" x="465.5" y="1011.4" text-anchor="middle">−5</text><line class="tk" x1="539.0" y1="987.9" x2="539.0" y2="992.4"/><text class="t" x="539.0" y="1011.4" text-anchor="middle">−4</text><line class="tk" x1="612.5" y1="987.9" x2="612.5" y2="992.4"/><text class="t" x="612.5" y="1011.4" text-anchor="middle">−3</text><line class="tk" x1="686.0" y1="987.9" x2="686.0" y2="992.4"/><text class="t" x="686.0" y="1011.4" text-anchor="middle">−2</text>
<line class="tk" x1="392.0" y1="1236.8999999999999" x2="392.0" y2="1241.3999999999999"/><text class="t" x="392.0" y="1260.4" text-anchor="middle">−6</text><line class="tk" x1="465.5" y1="1236.8999999999999" x2="465.5" y2="1241.3999999999999"/><text class="t" x="465.5" y="1260.4" text-anchor="middle">−5</text><line class="tk" x1="539.0" y1="1236.8999999999999" x2="539.0" y2="1241.3999999999999"/><text class="t" x="539.0" y="1260.4" text-anchor="middle">−4</text><line class="tk" x1="612.5" y1="1236.8999999999999" x2="612.5" y2="1241.3999999999999"/><text class="t" x="612.5" y="1260.4" text-anchor="middle">−3</text><line class="tk" x1="686.0" y1="1236.8999999999999" x2="686.0" y2="1241.3999999999999"/><text class="t" x="686.0" y="1260.4" text-anchor="middle">−2</text>
<line class="tk" x1="392.0" y1="1485.8999999999999" x2="392.0" y2="1490.3999999999999"/><text class="t" x="392.0" y="1509.4" text-anchor="middle">−6</text><line class="tk" x1="465.5" y1="1485.8999999999999" x2="465.5" y2="1490.3999999999999"/><text class="t" x="465.5" y="1509.4" text-anchor="middle">−5</text><line class="tk" x1="539.0" y1="1485.8999999999999" x2="539.0" y2="1490.3999999999999"/><text class="t" x="539.0" y="1509.4" text-anchor="middle">−4</text><line class="tk" x1="612.5" y1="1485.8999999999999" x2="612.5" y2="1490.3999999999999"/><text class="t" x="612.5" y="1509.4" text-anchor="middle">−3</text><line class="tk" x1="686.0" y1="1485.8999999999999" x2="686.0" y2="1490.3999999999999"/><text class="t" x="686.0" y="1509.4" text-anchor="middle">−2</text>
<line class="tk" x1="697.7" y1="738.9" x2="697.7" y2="743.4"/><text class="t" x="697.7" y="762.4" text-anchor="middle">−6</text><line class="tk" x1="771.2" y1="738.9" x2="771.2" y2="743.4"/><text class="t" x="771.2" y="762.4" text-anchor="middle">−5</text><line class="tk" x1="844.7" y1="738.9" x2="844.7" y2="743.4"/><text class="t" x="844.7" y="762.4" text-anchor="middle">−4</text><line class="tk" x1="918.2" y1="738.9" x2="918.2" y2="743.4"/><text class="t" x="918.2" y="762.4" text-anchor="middle">−3</text><line class="tk" x1="991.7" y1="738.9" x2="991.7" y2="743.4"/><text class="t" x="991.7" y="762.4" text-anchor="middle">−2</text>
<line class="tk" x1="697.7" y1="987.9" x2="697.7" y2="992.4"/><text class="t" x="697.7" y="1011.4" text-anchor="middle">−6</text><line class="tk" x1="771.2" y1="987.9" x2="771.2" y2="992.4"/><text class="t" x="771.2" y="1011.4" text-anchor="middle">−5</text><line class="tk" x1="844.7" y1="987.9" x2="844.7" y2="992.4"/><text class="t" x="844.7" y="1011.4" text-anchor="middle">−4</text><line class="tk" x1="918.2" y1="987.9" x2="918.2" y2="992.4"/><text class="t" x="918.2" y="1011.4" text-anchor="middle">−3</text><line class="tk" x1="991.7" y1="987.9" x2="991.7" y2="992.4"/><text class="t" x="991.7" y="1011.4" text-anchor="middle">−2</text>
<line class="tk" x1="697.7" y1="1236.8999999999999" x2="697.7" y2="1241.3999999999999"/><text class="t" x="697.7" y="1260.4" text-anchor="middle">−6</text><line class="tk" x1="771.2" y1="1236.8999999999999" x2="771.2" y2="1241.3999999999999"/><text class="t" x="771.2" y="1260.4" text-anchor="middle">−5</text><line class="tk" x1="844.7" y1="1236.8999999999999" x2="844.7" y2="1241.3999999999999"/><text class="t" x="844.7" y="1260.4" text-anchor="middle">−4</text><line class="tk" x1="918.2" y1="1236.8999999999999" x2="918.2" y2="1241.3999999999999"/><text class="t" x="918.2" y="1260.4" text-anchor="middle">−3</text><line class="tk" x1="991.7" y1="1236.8999999999999" x2="991.7" y2="1241.3999999999999"/><text class="t" x="991.7" y="1260.4" text-anchor="middle">−2</text>
<line class="tk" x1="697.7" y1="1485.8999999999999" x2="697.7" y2="1490.3999999999999"/><text class="t" x="697.7" y="1509.4" text-anchor="middle">−6</text><line class="tk" x1="771.2" y1="1485.8999999999999" x2="771.2" y2="1490.3999999999999"/><text class="t" x="771.2" y="1509.4" text-anchor="middle">−5</text><line class="tk" x1="844.7" y1="1485.8999999999999" x2="844.7" y2="1490.3999999999999"/><text class="t" x="844.7" y="1509.4" text-anchor="middle">−4</text><line class="tk" x1="918.2" y1="1485.8999999999999" x2="918.2" y2="1490.3999999999999"/><text class="t" x="918.2" y="1509.4" text-anchor="middle">−3</text><line class="tk" x1="991.7" y1="1485.8999999999999" x2="991.7" y2="1490.3999999999999"/><text class="t" x="991.7" y="1509.4" text-anchor="middle">−2</text>
<line class="tk" x1="1136.7" y1="240.89999999999998" x2="1136.7" y2="245.39999999999998"/><text class="t" x="1136.7" y="264.4" text-anchor="middle">−6</text><line class="tk" x1="1210.2" y1="240.89999999999998" x2="1210.2" y2="245.39999999999998"/><text class="t" x="1210.2" y="264.4" text-anchor="middle">−4</text><line class="tk" x1="1283.7" y1="240.89999999999998" x2="1283.7" y2="245.39999999999998"/><text class="t" x="1283.7" y="264.4" text-anchor="middle">−2</text><line class="tk" x1="1357.2" y1="240.89999999999998" x2="1357.2" y2="245.39999999999998"/><text class="t" x="1357.2" y="264.4" text-anchor="middle">0</text><line class="tk" x1="1095.4" y1="206.5" x2="1099.9" y2="206.5"/><text class="t" x="1092.3" y="214.3" text-anchor="end">49</text><line class="tk" x1="1095.4" y1="137.6" x2="1099.9" y2="137.6"/><text class="t" x="1092.3" y="145.4" text-anchor="end">50</text><line class="tk" x1="1095.4" y1="68.7" x2="1099.9" y2="68.7"/><text class="t" x="1092.3" y="76.5" text-anchor="end">51</text>
<line class="tk" x1="1136.7" y1="489.9" x2="1136.7" y2="494.4"/><text class="t" x="1136.7" y="513.4" text-anchor="middle">−6</text><line class="tk" x1="1210.2" y1="489.9" x2="1210.2" y2="494.4"/><text class="t" x="1210.2" y="513.4" text-anchor="middle">−4</text><line class="tk" x1="1283.7" y1="489.9" x2="1283.7" y2="494.4"/><text class="t" x="1283.7" y="513.4" text-anchor="middle">−2</text><line class="tk" x1="1357.2" y1="489.9" x2="1357.2" y2="494.4"/><text class="t" x="1357.2" y="513.4" text-anchor="middle">0</text><line class="tk" x1="1095.4" y1="455.5" x2="1099.9" y2="455.5"/><text class="t" x="1092.3" y="463.3" text-anchor="end">49</text><line class="tk" x1="1095.4" y1="386.6" x2="1099.9" y2="386.6"/><text class="t" x="1092.3" y="394.4" text-anchor="end">50</text><line class="tk" x1="1095.4" y1="317.7" x2="1099.9" y2="317.7"/><text class="t" x="1092.3" y="325.5" text-anchor="end">51</text>
<line class="tk" x1="1136.7" y1="738.9" x2="1136.7" y2="743.4"/><text class="t" x="1136.7" y="762.4" text-anchor="middle">−6</text><line class="tk" x1="1210.2" y1="738.9" x2="1210.2" y2="743.4"/><text class="t" x="1210.2" y="762.4" text-anchor="middle">−4</text><line class="tk" x1="1283.7" y1="738.9" x2="1283.7" y2="743.4"/><text class="t" x="1283.7" y="762.4" text-anchor="middle">−2</text><line class="tk" x1="1357.2" y1="738.9" x2="1357.2" y2="743.4"/><text class="t" x="1357.2" y="762.4" text-anchor="middle">0</text><line class="tk" x1="1095.4" y1="704.5" x2="1099.9" y2="704.5"/><text class="t" x="1092.3" y="712.3" text-anchor="end">49</text><line class="tk" x1="1095.4" y1="635.6" x2="1099.9" y2="635.6"/><text class="t" x="1092.3" y="643.4" text-anchor="end">50</text><line class="tk" x1="1095.4" y1="566.7" x2="1099.9" y2="566.7"/><text class="t" x="1092.3" y="574.5" text-anchor="end">51</text>
<line class="tk" x1="1136.7" y1="987.9" x2="1136.7" y2="992.4"/><text class="t" x="1136.7" y="1011.4" text-anchor="middle">−6</text><line class="tk" x1="1210.2" y1="987.9" x2="1210.2" y2="992.4"/><text class="t" x="1210.2" y="1011.4" text-anchor="middle">−4</text><line class="tk" x1="1283.7" y1="987.9" x2="1283.7" y2="992.4"/><text class="t" x="1283.7" y="1011.4" text-anchor="middle">−2</text><line class="tk" x1="1357.2" y1="987.9" x2="1357.2" y2="992.4"/><text class="t" x="1357.2" y="1011.4" text-anchor="middle">0</text><line class="tk" x1="1095.4" y1="953.5" x2="1099.9" y2="953.5"/><text class="t" x="1092.3" y="961.3" text-anchor="end">49</text><line class="tk" x1="1095.4" y1="884.6" x2="1099.9" y2="884.6"/><text class="t" x="1092.3" y="892.4" text-anchor="end">50</text><line class="tk" x1="1095.4" y1="815.7" x2="1099.9" y2="815.7"/><text class="t" x="1092.3" y="823.5" text-anchor="end">51</text>
<line class="tk" x1="1136.7" y1="1236.8999999999999" x2="1136.7" y2="1241.3999999999999"/><text class="t" x="1136.7" y="1260.4" text-anchor="middle">−6</text><line class="tk" x1="1210.2" y1="1236.8999999999999" x2="1210.2" y2="1241.3999999999999"/><text class="t" x="1210.2" y="1260.4" text-anchor="middle">−4</text><line class="tk" x1="1283.7" y1="1236.8999999999999" x2="1283.7" y2="1241.3999999999999"/><text class="t" x="1283.7" y="1260.4" text-anchor="middle">−2</text><line class="tk" x1="1357.2" y1="1236.8999999999999" x2="1357.2" y2="1241.3999999999999"/><text class="t" x="1357.2" y="1260.4" text-anchor="middle">0</text><line class="tk" x1="1095.4" y1="1202.5" x2="1099.9" y2="1202.5"/><text class="t" x="1092.3" y="1210.3" text-anchor="end">49</text><line class="tk" x1="1095.4" y1="1133.6" x2="1099.9" y2="1133.6"/><text class="t" x="1092.3" y="1141.4" text-anchor="end">50</text><line class="tk" x1="1095.4" y1="1064.7" x2="1099.9" y2="1064.7"/><text class="t" x="1092.3" y="1072.5" text-anchor="end">51</text>
<line class="tk" x1="1136.7" y1="1485.8999999999999" x2="1136.7" y2="1490.3999999999999"/><text class="t" x="1136.7" y="1509.4" text-anchor="middle">−6</text><line class="tk" x1="1210.2" y1="1485.8999999999999" x2="1210.2" y2="1490.3999999999999"/><text class="t" x="1210.2" y="1509.4" text-anchor="middle">−4</text><line class="tk" x1="1283.7" y1="1485.8999999999999" x2="1283.7" y2="1490.3999999999999"/><text class="t" x="1283.7" y="1509.4" text-anchor="middle">−2</text><line class="tk" x1="1357.2" y1="1485.8999999999999" x2="1357.2" y2="1490.3999999999999"/><text class="t" x="1357.2" y="1509.4" text-anchor="middle">0</text><line class="tk" x1="1095.4" y1="1451.5" x2="1099.9" y2="1451.5"/><text class="t" x="1092.3" y="1459.3" text-anchor="end">49</text><line class="tk" x1="1095.4" y1="1382.6" x2="1099.9" y2="1382.6"/><text class="t" x="1092.3" y="1390.4" text-anchor="end">50</text><line class="tk" x1="1095.4" y1="1313.7" x2="1099.9" y2="1313.7"/><text class="t" x="1092.3" y="1321.5" text-anchor="end">51</text>
<line class="tk" x1="1442.0" y1="240.89999999999998" x2="1442.0" y2="245.39999999999998"/><text class="t" x="1442.0" y="264.4" text-anchor="middle">−6</text><line class="tk" x1="1515.5" y1="240.89999999999998" x2="1515.5" y2="245.39999999999998"/><text class="t" x="1515.5" y="264.4" text-anchor="middle">−4</text><line class="tk" x1="1589.0" y1="240.89999999999998" x2="1589.0" y2="245.39999999999998"/><text class="t" x="1589.0" y="264.4" text-anchor="middle">−2</text><line class="tk" x1="1662.5" y1="240.89999999999998" x2="1662.5" y2="245.39999999999998"/><text class="t" x="1662.5" y="264.4" text-anchor="middle">0</text>
<line class="tk" x1="1442.0" y1="489.9" x2="1442.0" y2="494.4"/><text class="t" x="1442.0" y="513.4" text-anchor="middle">−6</text><line class="tk" x1="1515.5" y1="489.9" x2="1515.5" y2="494.4"/><text class="t" x="1515.5" y="513.4" text-anchor="middle">−4</text><line class="tk" x1="1589.0" y1="489.9" x2="1589.0" y2="494.4"/><text class="t" x="1589.0" y="513.4" text-anchor="middle">−2</text><line class="tk" x1="1662.5" y1="489.9" x2="1662.5" y2="494.4"/><text class="t" x="1662.5" y="513.4" text-anchor="middle">0</text>
<line class="tk" x1="1442.0" y1="738.9" x2="1442.0" y2="743.4"/><text class="t" x="1442.0" y="762.4" text-anchor="middle">−6</text><line class="tk" x1="1515.5" y1="738.9" x2="1515.5" y2="743.4"/><text class="t" x="1515.5" y="762.4" text-anchor="middle">−4</text><line class="tk" x1="1589.0" y1="738.9" x2="1589.0" y2="743.4"/><text class="t" x="1589.0" y="762.4" text-anchor="middle">−2</text><line class="tk" x1="1662.5" y1="738.9" x2="1662.5" y2="743.4"/><text class="t" x="1662.5" y="762.4" text-anchor="middle">0</text>
<line class="tk" x1="1442.0" y1="987.9" x2="1442.0" y2="992.4"/><text class="t" x="1442.0" y="1011.4" text-anchor="middle">−6</text><line class="tk" x1="1515.5" y1="987.9" x2="1515.5" y2="992.4"/><text class="t" x="1515.5" y="1011.4" text-anchor="middle">−4</text><line class="tk" x1="1589.0" y1="987.9" x2="1589.0" y2="992.4"/><text class="t" x="1589.0" y="1011.4" text-anchor="middle">−2</text><line class="tk" x1="1662.5" y1="987.9" x2="1662.5" y2="992.4"/><text class="t" x="1662.5" y="1011.4" text-anchor="middle">0</text>
<line class="tk" x1="1442.0" y1="1236.8999999999999" x2="1442.0" y2="1241.3999999999999"/><text class="t" x="1442.0" y="1260.4" text-anchor="middle">−6</text><line class="tk" x1="1515.5" y1="1236.8999999999999" x2="1515.5" y2="1241.3999999999999"/><text class="t" x="1515.5" y="1260.4" text-anchor="middle">−4</text><line class="tk" x1="1589.0" y1="1236.8999999999999" x2="1589.0" y2="1241.3999999999999"/><text class="t" x="1589.0" y="1260.4" text-anchor="middle">−2</text><line class="tk" x1="1662.5" y1="1236.8999999999999" x2="1662.5" y2="1241.3999999999999"/><text class="t" x="1662.5" y="1260.4" text-anchor="middle">0</text>
<line class="tk" x1="1442.0" y1="1485.8999999999999" x2="1442.0" y2="1490.3999999999999"/><text class="t" x="1442.0" y="1509.4" text-anchor="middle">−6</text><line class="tk" x1="1515.5" y1="1485.8999999999999" x2="1515.5" y2="1490.3999999999999"/><text class="t" x="1515.5" y="1509.4" text-anchor="middle">−4</text><line class="tk" x1="1589.0" y1="1485.8999999999999" x2="1589.0" y2="1490.3999999999999"/><text class="t" x="1589.0" y="1509.4" text-anchor="middle">−2</text><line class="tk" x1="1662.5" y1="1485.8999999999999" x2="1662.5" y2="1490.3999999999999"/><text class="t" x="1662.5" y="1509.4" text-anchor="middle">0</text>
<line class="tk" x1="1747.8" y1="987.9" x2="1747.8" y2="992.4"/><text class="t" x="1747.8" y="1011.4" text-anchor="middle">−6</text><line class="tk" x1="1821.2" y1="987.9" x2="1821.2" y2="992.4"/><text class="t" x="1821.2" y="1011.4" text-anchor="middle">−4</text><line class="tk" x1="1894.8" y1="987.9" x2="1894.8" y2="992.4"/><text class="t" x="1894.8" y="1011.4" text-anchor="middle">−2</text><line class="tk" x1="1968.2" y1="987.9" x2="1968.2" y2="992.4"/><text class="t" x="1968.2" y="1011.4" text-anchor="middle">0</text>
<line class="tk" x1="1747.8" y1="1236.8999999999999" x2="1747.8" y2="1241.3999999999999"/><text class="t" x="1747.8" y="1260.4" text-anchor="middle">−6</text><line class="tk" x1="1821.2" y1="1236.8999999999999" x2="1821.2" y2="1241.3999999999999"/><text class="t" x="1821.2" y="1260.4" text-anchor="middle">−4</text><line class="tk" x1="1894.8" y1="1236.8999999999999" x2="1894.8" y2="1241.3999999999999"/><text class="t" x="1894.8" y="1260.4" text-anchor="middle">−2</text><line class="tk" x1="1968.2" y1="1236.8999999999999" x2="1968.2" y2="1241.3999999999999"/><text class="t" x="1968.2" y="1260.4" text-anchor="middle">0</text>
<line class="tk" x1="1747.8" y1="1485.8999999999999" x2="1747.8" y2="1490.3999999999999"/><text class="t" x="1747.8" y="1509.4" text-anchor="middle">−6</text><line class="tk" x1="1821.2" y1="1485.8999999999999" x2="1821.2" y2="1490.3999999999999"/><text class="t" x="1821.2" y="1509.4" text-anchor="middle">−4</text><line class="tk" x1="1894.8" y1="1485.8999999999999" x2="1894.8" y2="1490.3999999999999"/><text class="t" x="1894.8" y="1509.4" text-anchor="middle">−2</text><line class="tk" x1="1968.2" y1="1485.8999999999999" x2="1968.2" y2="1490.3999999999999"/><text class="t" x="1968.2" y="1509.4" text-anchor="middle">0</text>
<text class="d" text-anchor="middle" transform="translate(24.3,136.4) rotate(-90)">2010-07-05</text>
<text class="d" text-anchor="middle" transform="translate(1051.5,136.4) rotate(-90)">2015-09-10</text>
<text class="d" text-anchor="middle" transform="translate(24.3,385.4) rotate(-90)">2010-07-09</text>
<text class="d" text-anchor="middle" transform="translate(1051.5,385.4) rotate(-90)">2015-09-17</text>
<text class="d" text-anchor="middle" transform="translate(24.3,634.4) rotate(-90)">2010-07-15</text>
<text class="d" text-anchor="middle" transform="translate(1051.5,634.4) rotate(-90)">2015-09-19</text>
<text class="d" text-anchor="middle" transform="translate(24.3,883.4) rotate(-90)">2010-07-17</text>
<text class="d" text-anchor="middle" transform="translate(1051.5,883.4) rotate(-90)">2015-09-26</text>
<text class="d" text-anchor="middle" transform="translate(24.3,1132.4) rotate(-90)">2010-07-21</text>
<text class="d" text-anchor="middle" transform="translate(1051.5,1132.4) rotate(-90)">2015-09-28</text>
<text class="d" text-anchor="middle" transform="translate(24.3,1381.4) rotate(-90)">2010-07-25</text>
<text class="d" text-anchor="middle" transform="translate(1051.5,1381.4) rotate(-90)">2015-09-30</text>
<text class="h" x="240.0" y="24.4" text-anchor="middle">A</text>
<text class="h" x="536.8" y="24.4" text-anchor="middle">B</text>
<text class="h" x="846.9" y="24.4" text-anchor="middle">C</text>
<text class="h" x="1253.8" y="24.4" text-anchor="middle">D</text>
<text class="h" x="1548.9" y="24.4" text-anchor="middle">E</text>
<text class="h" x="1858.5" y="24.4" text-anchor="middle">F</text>
<path d="M115.5 1521.3H340.0L351.0 1524.4499999999998L340.0 1527.6H115.5Z" fill="url(#vir)" stroke="#333" stroke-width="0.6"/><line class="tk" x1="181.1" y1="1527.6" x2="181.1" y2="1532.1"/><text class="t" x="181.1" y="1550.6" text-anchor="middle">2</text><line class="tk" x1="260.5" y1="1527.6" x2="260.5" y2="1532.1"/><text class="t" x="260.5" y="1550.6" text-anchor="middle">4</text><line class="tk" x1="340.0" y1="1527.6" x2="340.0" y2="1532.1"/><text class="t" x="340.0" y="1550.6" text-anchor="middle">6</text><text class="t" x="233.2" y="1575.6" text-anchor="middle" style="font-size:21.5px">Chl mg/l</text>
<path d="M421.0 1521.3H645.5L656.5 1524.4499999999998L645.5 1527.6H421.0Z" fill="url(#vir)" stroke="#333" stroke-width="0.6"/><line class="tk" x1="421.0" y1="1527.6" x2="421.0" y2="1532.1"/><text class="t" x="421.0" y="1550.6" text-anchor="middle">0</text><line class="tk" x1="533.2" y1="1527.6" x2="533.2" y2="1532.1"/><text class="t" x="533.2" y="1550.6" text-anchor="middle">50</text><line class="tk" x1="645.5" y1="1527.6" x2="645.5" y2="1532.1"/><text class="t" x="645.5" y="1550.6" text-anchor="middle">100</text><text class="t" x="538.8" y="1575.6" text-anchor="middle" style="font-size:21.5px">Particle density</text>
<path d="M726.7 1521.3H951.2L962.2 1524.4499999999998L951.2 1527.6H726.7Z" fill="url(#vir)" stroke="#333" stroke-width="0.6"/><line class="tk" x1="726.7" y1="1527.6" x2="726.7" y2="1532.1"/><text class="t" x="726.7" y="1550.6" text-anchor="middle">0</text><line class="tk" x1="839.0" y1="1527.6" x2="839.0" y2="1532.1"/><text class="t" x="839.0" y="1550.6" text-anchor="middle">50</text><line class="tk" x1="951.2" y1="1527.6" x2="951.2" y2="1532.1"/><text class="t" x="951.2" y="1550.6" text-anchor="middle">100</text><text class="t" x="844.5" y="1575.6" text-anchor="middle" style="font-size:21.5px">Particle density</text>
<path d="M1128.9 1521.3H1353.4L1364.4 1524.4499999999998L1353.4 1527.6H1128.9Z" fill="url(#vir)" stroke="#333" stroke-width="0.6"/><line class="tk" x1="1194.5" y1="1527.6" x2="1194.5" y2="1532.1"/><text class="t" x="1194.5" y="1550.6" text-anchor="middle">2</text><line class="tk" x1="1273.9" y1="1527.6" x2="1273.9" y2="1532.1"/><text class="t" x="1273.9" y="1550.6" text-anchor="middle">4</text><line class="tk" x1="1353.4" y1="1527.6" x2="1353.4" y2="1532.1"/><text class="t" x="1353.4" y="1550.6" text-anchor="middle">6</text><text class="t" x="1246.7" y="1575.6" text-anchor="middle" style="font-size:21.5px">Chl mg/l</text>
<path d="M1434.3 1521.3H1658.8L1669.8 1524.4499999999998L1658.8 1527.6H1434.3Z" fill="url(#vir)" stroke="#333" stroke-width="0.6"/><line class="tk" x1="1434.3" y1="1527.6" x2="1434.3" y2="1532.1"/><text class="t" x="1434.3" y="1550.6" text-anchor="middle">0</text><line class="tk" x1="1546.5" y1="1527.6" x2="1546.5" y2="1532.1"/><text class="t" x="1546.5" y="1550.6" text-anchor="middle">50</text><line class="tk" x1="1658.8" y1="1527.6" x2="1658.8" y2="1532.1"/><text class="t" x="1658.8" y="1550.6" text-anchor="middle">100</text><text class="t" x="1552.0" y="1575.6" text-anchor="middle" style="font-size:21.5px">Particle density</text>
<path d="M1740.0 1521.3H1964.5L1975.5 1524.4499999999998L1964.5 1527.6H1740.0Z" fill="url(#vir)" stroke="#333" stroke-width="0.6"/><line class="tk" x1="1740.0" y1="1527.6" x2="1740.0" y2="1532.1"/><text class="t" x="1740.0" y="1550.6" text-anchor="middle">0</text><line class="tk" x1="1852.2" y1="1527.6" x2="1852.2" y2="1532.1"/><text class="t" x="1852.2" y="1550.6" text-anchor="middle">50</text><line class="tk" x1="1964.5" y1="1527.6" x2="1964.5" y2="1532.1"/><text class="t" x="1964.5" y="1550.6" text-anchor="middle">100</text><text class="t" x="1857.8" y="1575.6" text-anchor="middle" style="font-size:21.5px">Particle density</text>
</svg>
</body></html>
